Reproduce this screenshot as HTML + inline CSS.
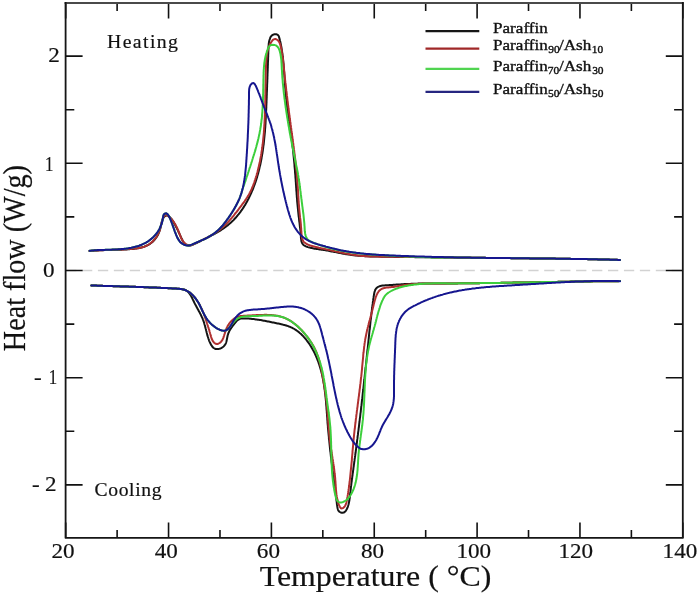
<!DOCTYPE html>
<html><head><meta charset="utf-8"><style>
html,body{margin:0;padding:0;background:#fff;}
body{width:700px;height:601px;overflow:hidden;}
svg{display:block;filter:blur(0.3px);}
text{font-family:"Liberation Serif",serif;fill:#111;stroke:#111;stroke-width:0.2px;}
.lg text{stroke-width:0.35px;}
</style></head><body>
<svg width="700" height="601" viewBox="0 0 700 601">
<line x1="66" y1="270.5" x2="682" y2="270.5" stroke="#d2d2d2" stroke-width="1.6" stroke-dasharray="10.3 5.64" stroke-dashoffset="15.92"/>
<path d="M89.5 251.0L90.5 250.9L91.5 250.9L92.5 250.8L93.5 250.7L94.5 250.6L95.5 250.5L96.5 250.5L97.5 250.4L98.5 250.4L99.5 250.3L100.5 250.3L101.5 250.2L102.5 250.2L103.5 250.2L104.5 250.1L105.5 250.1L106.5 250.1L107.5 250.0L108.5 250.0L109.5 250.0L110.5 250.0L111.5 249.9L112.5 249.9L113.5 249.9L114.5 249.9L115.5 249.8L116.4 249.8L117.4 249.8L118.4 249.8L119.4 249.7L120.4 249.7L121.4 249.7L122.4 249.6L123.4 249.6L124.4 249.5L125.4 249.5L126.4 249.4L127.4 249.3L128.4 249.3L129.4 249.2L130.4 249.1L131.4 249.0L132.4 249.0L133.4 248.9L134.4 248.7L135.4 248.6L136.4 248.5L137.4 248.3L138.4 248.2L139.3 248.0L140.3 247.8L141.3 247.5L142.3 247.3L143.2 247.0L144.2 246.7L145.1 246.3L146.0 246.0L146.9 245.5L147.8 245.1L148.7 244.6L149.6 244.1L150.4 243.5L151.2 243.0L152.0 242.3L152.7 241.7L153.4 241.0L154.1 240.2L154.8 239.5L155.4 238.7L156.0 237.9L156.6 237.1L157.1 236.2L157.6 235.4L158.1 234.5L158.5 233.6L158.9 232.7L159.3 231.7L159.6 230.8L159.9 229.8L160.2 228.9L160.4 227.9L160.6 226.9L160.8 225.9L161.0 225.0L161.3 224.0L161.5 223.0L161.7 222.0L162.0 221.1L162.3 220.1L162.7 219.2L163.1 218.3L163.7 217.5L164.3 216.7L165.1 216.0L165.9 215.6L166.9 215.5L167.9 215.8L168.8 216.3L169.6 216.9L170.3 217.6L170.9 218.3L171.6 219.1L172.1 219.9L172.7 220.8L173.2 221.6L173.7 222.5L174.2 223.4L174.7 224.2L175.2 225.1L175.6 226.0L176.1 226.9L176.6 227.8L177.0 228.7L177.5 229.5L177.9 230.4L178.3 231.3L178.7 232.3L179.2 233.2L179.6 234.1L180.0 235.0L180.4 235.9L180.8 236.8L181.2 237.7L181.7 238.6L182.1 239.5L182.5 240.4L183.0 241.3L183.5 242.2L184.1 243.0L184.8 243.7L185.5 244.4L186.4 244.9L187.3 245.3L188.3 245.5L189.3 245.5L190.3 245.4L191.2 245.2L192.2 244.9L193.1 244.6L194.0 244.2L195.0 243.7L195.9 243.3L196.8 242.9L197.7 242.5L198.6 242.0L199.5 241.6L200.3 241.1L201.2 240.7L202.1 240.2L203.0 239.8L203.9 239.3L204.8 238.9L205.7 238.4L206.6 238.0L207.5 237.5L208.4 237.1L209.3 236.6L210.2 236.1L211.0 235.7L211.9 235.2L212.8 234.7L213.7 234.3L214.6 233.8L215.4 233.3L216.3 232.8L217.2 232.3L218.0 231.8L218.9 231.3L219.8 230.8L220.6 230.3L221.5 229.7L222.3 229.2L223.1 228.6L223.9 228.1L224.8 227.5L225.6 226.9L226.4 226.3L227.2 225.7L228.0 225.1L228.7 224.4L229.5 223.8L230.2 223.1L231.0 222.5L231.7 221.8L232.4 221.1L233.2 220.4L233.9 219.7L234.5 219.0L235.2 218.2L235.9 217.5L236.6 216.7L237.2 216.0L237.8 215.2L238.5 214.4L239.1 213.6L239.7 212.9L240.3 212.1L240.9 211.2L241.5 210.4L242.0 209.6L242.6 208.8L243.2 207.9L243.7 207.1L244.2 206.3L244.8 205.4L245.3 204.6L245.8 203.7L246.3 202.8L246.8 202.0L247.3 201.1L247.7 200.2L248.2 199.3L248.7 198.4L249.1 197.5L249.5 196.6L250.0 195.7L250.4 194.8L250.8 193.9L251.2 193.0L251.6 192.1L252.0 191.2L252.4 190.3L252.8 189.3L253.2 188.4L253.5 187.5L253.9 186.5L254.2 185.6L254.6 184.7L254.9 183.7L255.2 182.8L255.6 181.8L255.9 180.9L256.2 179.9L256.5 179.0L256.8 178.0L257.1 177.1L257.3 176.1L257.6 175.1L257.9 174.2L258.2 173.2L258.4 172.3L258.7 171.3L258.9 170.3L259.2 169.3L259.4 168.4L259.6 167.4L259.8 166.4L260.1 165.5L260.3 164.5L260.5 163.5L260.7 162.5L260.9 161.5L261.1 160.6L261.3 159.6L261.5 158.6L261.6 157.6L261.8 156.6L262.0 155.6L262.1 154.7L262.3 153.7L262.5 152.7L262.6 151.7L262.8 150.7L262.9 149.7L263.0 148.7L263.2 147.7L263.3 146.7L263.4 145.8L263.6 144.8L263.7 143.8L263.8 142.8L263.9 141.8L264.0 140.8L264.1 139.8L264.2 138.8L264.3 137.8L264.4 136.8L264.5 135.8L264.6 134.8L264.7 133.8L264.8 132.8L264.9 131.8L265.0 130.8L265.0 129.8L265.1 128.8L265.2 127.8L265.3 126.8L265.3 125.9L265.4 124.9L265.5 123.9L265.5 122.9L265.6 121.9L265.6 120.9L265.7 119.9L265.7 118.9L265.8 117.9L265.8 116.9L265.9 115.9L265.9 114.9L266.0 113.9L266.0 112.9L266.1 111.9L266.1 110.9L266.2 109.9L266.2 108.9L266.3 107.9L266.3 106.9L266.3 105.9L266.4 104.9L266.4 103.9L266.5 102.9L266.5 101.9L266.5 100.9L266.6 99.9L266.6 98.9L266.7 97.9L266.7 96.9L266.7 95.9L266.8 94.9L266.8 93.9L266.8 92.9L266.9 91.9L266.9 90.9L267.0 89.9L267.0 88.9L267.0 87.9L267.1 86.9L267.1 85.9L267.1 84.9L267.2 83.9L267.2 82.9L267.3 81.9L267.3 80.9L267.3 79.9L267.4 78.9L267.4 77.9L267.4 76.9L267.5 75.9L267.5 74.9L267.5 73.9L267.6 72.9L267.6 71.9L267.7 70.9L267.7 69.9L267.7 68.9L267.8 67.9L267.8 66.9L267.8 65.9L267.9 64.9L267.9 63.9L267.9 62.9L268.0 61.9L268.0 60.9L268.1 59.9L268.1 58.9L268.1 57.9L268.2 56.9L268.2 55.9L268.2 54.9L268.3 53.9L268.3 52.9L268.3 51.9L268.4 50.9L268.4 49.9L268.5 48.9L268.5 47.9L268.5 46.9L268.6 45.9L268.7 44.9L268.7 44.0L268.9 43.0L269.0 42.0L269.2 41.0L269.5 40.0L269.8 39.1L270.1 38.1L270.5 37.2L271.1 36.4L271.7 35.6L272.5 35.0L273.4 34.6L274.3 34.3L275.3 34.2L276.3 34.3L277.3 34.6L278.1 35.2L278.7 36.0L279.0 36.9L279.3 37.9L279.5 38.9L279.8 39.8L280.0 40.8L280.3 41.8L280.5 42.7L280.7 43.7L280.9 44.7L281.1 45.7L281.3 46.7L281.5 47.6L281.6 48.6L281.8 49.6L281.9 50.6L282.1 51.6L282.2 52.6L282.4 53.6L282.5 54.6L282.6 55.6L282.7 56.5L282.9 57.5L283.0 58.5L283.1 59.5L283.2 60.5L283.3 61.5L283.4 62.5L283.5 63.5L283.6 64.5L283.6 65.5L283.7 66.5L283.8 67.5L283.9 68.5L284.0 69.5L284.0 70.5L284.1 71.5L284.2 72.5L284.2 73.5L284.3 74.5L284.4 75.5L284.4 76.5L284.5 77.5L284.6 78.5L284.7 79.5L284.7 80.5L284.8 81.5L284.9 82.5L284.9 83.4L285.0 84.4L285.1 85.4L285.1 86.4L285.2 87.4L285.3 88.4L285.4 89.4L285.4 90.4L285.5 91.4L285.6 92.4L285.7 93.4L285.8 94.4L285.9 95.4L286.0 96.4L286.1 97.4L286.1 98.4L286.3 99.4L286.4 100.4L286.5 101.4L286.6 102.4L286.7 103.4L286.8 104.4L286.9 105.3L287.0 106.3L287.2 107.3L287.3 108.3L287.4 109.3L287.6 110.3L287.7 111.3L287.8 112.3L288.0 113.3L288.1 114.3L288.3 115.3L288.4 116.2L288.5 117.2L288.7 118.2L288.8 119.2L289.0 120.2L289.1 121.2L289.3 122.2L289.4 123.2L289.6 124.2L289.7 125.1L289.8 126.1L290.0 127.1L290.1 128.1L290.3 129.1L290.4 130.1L290.6 131.1L290.7 132.1L290.8 133.1L291.0 134.1L291.1 135.0L291.3 136.0L291.4 137.0L291.5 138.0L291.7 139.0L291.8 140.0L291.9 141.0L292.0 142.0L292.2 143.0L292.3 144.0L292.4 145.0L292.5 146.0L292.6 146.9L292.8 147.9L292.9 148.9L293.0 149.9L293.1 150.9L293.2 151.9L293.3 152.9L293.4 153.9L293.5 154.9L293.6 155.9L293.7 156.9L293.8 157.9L293.9 158.9L294.0 159.9L294.1 160.9L294.2 161.9L294.3 162.9L294.4 163.9L294.5 164.8L294.5 165.8L294.6 166.8L294.7 167.8L294.8 168.8L294.9 169.8L295.0 170.8L295.0 171.8L295.1 172.8L295.2 173.8L295.3 174.8L295.4 175.8L295.4 176.8L295.5 177.8L295.6 178.8L295.7 179.8L295.7 180.8L295.8 181.8L295.9 182.8L295.9 183.8L296.0 184.8L296.1 185.8L296.1 186.8L296.2 187.8L296.3 188.8L296.3 189.8L296.4 190.8L296.5 191.8L296.6 192.8L296.6 193.8L296.7 194.8L296.8 195.8L296.8 196.7L296.9 197.7L297.0 198.7L297.1 199.7L297.1 200.7L297.2 201.7L297.3 202.7L297.4 203.7L297.5 204.7L297.6 205.7L297.7 206.7L297.8 207.7L297.9 208.7L298.0 209.7L298.1 210.7L298.2 211.7L298.3 212.7L298.4 213.7L298.5 214.7L298.6 215.7L298.7 216.6L298.9 217.6L299.0 218.6L299.1 219.6L299.2 220.6L299.3 221.6L299.5 222.6L299.6 223.6L299.7 224.6L299.8 225.6L299.9 226.6L300.0 227.6L300.2 228.6L300.3 229.6L300.4 230.5L300.5 231.5L300.6 232.5L300.7 233.5L300.7 234.5L300.8 235.5L300.9 236.5L300.9 237.5L301.0 238.5L301.2 239.5L301.3 240.5L301.5 241.5L301.8 242.4L302.2 243.3L302.8 244.2L303.4 244.9L304.2 245.5L305.1 246.0L306.0 246.4L307.0 246.8L307.9 247.1L308.9 247.4L309.8 247.6L310.8 247.9L311.8 248.1L312.8 248.3L313.7 248.5L314.7 248.7L315.7 248.8L316.7 249.0L317.7 249.1L318.7 249.2L319.7 249.4L320.7 249.5L321.6 249.7L322.6 249.8L323.6 250.0L324.6 250.1L325.6 250.3L326.6 250.5L327.6 250.6L328.5 250.8L329.5 251.0L330.5 251.2L331.5 251.4L332.5 251.6L333.5 251.8L334.4 252.0L335.4 252.1L336.4 252.3L337.4 252.5L338.4 252.7L339.3 252.9L340.3 253.1L341.3 253.3L342.3 253.5L343.3 253.7L344.3 253.8L345.2 254.0L346.2 254.2L347.2 254.3L348.2 254.5L349.2 254.6L350.2 254.8L351.2 254.9L352.2 255.0L353.2 255.2L354.1 255.3L355.1 255.4L356.1 255.5L357.1 255.6L358.1 255.7L359.1 255.8L360.1 255.8L361.1 255.9L362.1 256.0L363.1 256.0L364.1 256.1L365.1 256.2L366.1 256.2L367.1 256.3L368.1 256.3L369.1 256.3L370.1 256.4L371.1 256.4L372.1 256.4L373.1 256.5L374.1 256.5L375.1 256.5L376.1 256.6L377.1 256.6L378.1 256.6L379.1 256.6L380.1 256.6L381.1 256.7L382.1 256.7L383.1 256.7L384.1 256.7L385.1 256.7L386.1 256.7L387.1 256.8L388.1 256.8L389.1 256.8L390.1 256.8L391.1 256.8L392.1 256.8L393.1 256.8L394.1 256.9L395.1 256.9L396.1 256.9L397.1 256.9L398.1 256.9L399.1 256.9L400.1 256.9L401.1 257.0L402.1 257.0L403.1 257.0L404.1 257.0L405.1 257.0L406.1 257.0L407.1 257.0L408.1 257.1L409.1 257.1L410.1 257.1L411.1 257.1L412.1 257.1L413.1 257.1L414.1 257.1L415.1 257.2L416.1 257.2L417.1 257.2L418.1 257.2L419.1 257.2L420.1 257.2L421.1 257.2L422.1 257.2L423.1 257.3L424.1 257.3L425.1 257.3L426.1 257.3L427.1 257.3L428.1 257.3L429.1 257.3L430.1 257.3L431.1 257.4L432.1 257.4L433.1 257.4L434.1 257.4L435.1 257.4L436.1 257.4L437.1 257.4L438.1 257.4L439.1 257.5L440.1 257.5L441.1 257.5L442.1 257.5L443.1 257.5L444.1 257.5L445.1 257.5L446.1 257.5L447.1 257.5L448.1 257.6L449.1 257.6L450.1 257.6L451.1 257.6L452.1 257.6L453.1 257.6L454.1 257.6L455.1 257.6L456.1 257.6L457.1 257.7L458.1 257.7L459.1 257.7L460.1 257.7L461.1 257.7L462.1 257.7L463.1 257.7L464.1 257.7L465.1 257.7L466.1 257.8L467.1 257.8L468.1 257.8L469.1 257.8L470.1 257.8L471.1 257.8L472.1 257.8L473.1 257.8L474.1 257.8L475.1 257.8L476.1 257.8L477.1 257.8L478.1 257.8L479.1 257.8L480.1 257.8L481.1 257.8L482.1 257.8L483.1 257.8L484.1 257.8L485.1 257.8L486.1 257.9L487.1 257.9L488.1 257.9L489.1 257.9L490.1 257.9L491.1 257.9L492.1 257.9L493.1 257.9L494.1 258.0L495.1 258.0L496.1 258.0L497.1 258.0L498.1 258.0L499.1 258.0L500.1 258.0L501.1 258.0L502.1 258.1L503.1 258.1L504.1 258.1L505.1 258.1L506.1 258.1L507.1 258.1L508.1 258.1L509.1 258.1L510.1 258.1L511.1 258.2L512.1 258.2L513.1 258.2L514.1 258.2L515.1 258.2L516.1 258.2L517.1 258.2L518.1 258.2L519.1 258.2L520.1 258.2L521.1 258.3L522.1 258.3L523.0 258.3L524.0 258.3L525.0 258.3L526.0 258.3L527.0 258.3L528.0 258.3L529.0 258.3L530.0 258.4L531.0 258.4L532.0 258.4L533.0 258.4L534.0 258.4L535.0 258.4L536.0 258.4L537.0 258.4L538.0 258.4L539.0 258.4L540.0 258.5L541.0 258.5L542.0 258.5L543.0 258.5L544.0 258.5L545.0 258.5L546.0 258.5L547.0 258.5L548.0 258.6L549.0 258.6L550.0 258.6L551.0 258.6L552.0 258.6L553.0 258.6L554.0 258.6L555.0 258.6L556.0 258.7L557.0 258.7L558.0 258.7L559.0 258.7L560.0 258.7L561.0 258.7L562.0 258.7L563.0 258.7L564.0 258.8L565.0 258.8L566.0 258.8L567.0 258.8L568.0 258.8L569.0 258.8L570.0 258.8L571.0 258.9L572.0 258.9L573.0 258.9L574.0 258.9L575.0 258.9L576.0 258.9L577.0 259.0L578.0 259.0L579.0 259.0L580.0 259.0L581.0 259.0L582.0 259.0L583.0 259.1L584.0 259.1L585.0 259.1L586.0 259.1L587.0 259.1L588.0 259.2L589.0 259.2L590.0 259.2L591.0 259.2L592.0 259.2L593.0 259.3L594.0 259.3L595.0 259.3L596.0 259.3L597.0 259.3L598.0 259.4L599.0 259.4L600.0 259.4L601.0 259.4L602.0 259.5L603.0 259.5L604.0 259.5L605.0 259.5L606.0 259.6L607.0 259.6L608.0 259.6L609.0 259.6L610.0 259.7L611.0 259.7L612.0 259.7L613.0 259.7L614.0 259.8L615.0 259.8L616.0 259.8L617.0 259.8L618.0 259.9L619.0 259.9L620.0 259.9" fill="none" stroke="#141414" stroke-width="2.0" stroke-linejoin="round" stroke-linecap="round"/>
<path d="M91.3 285.5L92.3 285.5L93.3 285.5L94.3 285.6L95.3 285.6L96.3 285.6L97.3 285.7L98.3 285.7L99.3 285.7L100.3 285.8L101.3 285.8L102.3 285.8L103.3 285.9L104.3 285.9L105.3 285.9L106.3 285.9L107.3 286.0L108.3 286.0L109.3 286.0L110.3 286.1L111.3 286.1L112.3 286.1L113.3 286.2L114.3 286.2L115.3 286.2L116.3 286.3L117.3 286.3L118.3 286.3L119.3 286.3L120.3 286.4L121.2 286.4L122.2 286.4L123.2 286.5L124.2 286.5L125.2 286.5L126.2 286.6L127.2 286.6L128.2 286.6L129.2 286.7L130.2 286.7L131.2 286.7L132.2 286.8L133.2 286.8L134.2 286.8L135.2 286.8L136.2 286.9L137.2 286.9L138.2 287.0L139.2 287.0L140.2 287.0L141.2 287.1L142.2 287.1L143.2 287.1L144.2 287.2L145.2 287.2L146.2 287.2L147.2 287.3L148.2 287.3L149.2 287.4L150.2 287.4L151.2 287.4L152.2 287.5L153.2 287.5L154.2 287.6L155.2 287.6L156.2 287.6L157.2 287.7L158.2 287.7L159.2 287.8L160.2 287.8L161.2 287.9L162.2 287.9L163.2 287.9L164.2 288.0L165.2 288.0L166.2 288.1L167.2 288.1L168.2 288.2L169.2 288.2L170.2 288.3L171.2 288.3L172.2 288.4L173.2 288.4L174.2 288.5L175.1 288.6L176.1 288.6L177.1 288.7L178.1 288.7L179.1 288.8L180.1 288.9L181.1 289.0L182.1 289.1L183.1 289.3L184.0 289.5L185.0 289.8L185.8 290.2L186.7 290.8L187.5 291.4L188.2 292.1L188.9 292.8L189.5 293.6L190.1 294.4L190.6 295.2L191.1 296.1L191.6 297.0L192.1 297.9L192.5 298.8L192.9 299.7L193.4 300.6L193.8 301.5L194.2 302.4L194.7 303.3L195.1 304.2L195.6 305.0L196.1 305.9L196.5 306.8L197.0 307.7L197.5 308.6L198.0 309.4L198.4 310.3L198.9 311.2L199.4 312.1L199.9 313.0L200.3 313.8L200.8 314.7L201.2 315.6L201.6 316.5L202.1 317.4L202.5 318.4L202.8 319.3L203.2 320.2L203.5 321.2L203.9 322.1L204.2 323.1L204.4 324.0L204.7 325.0L205.0 325.9L205.2 326.9L205.5 327.9L205.7 328.8L206.0 329.8L206.2 330.8L206.5 331.7L206.7 332.7L207.0 333.7L207.2 334.6L207.5 335.6L207.8 336.6L208.1 337.5L208.4 338.5L208.7 339.4L209.0 340.3L209.4 341.3L209.8 342.2L210.2 343.1L210.7 344.0L211.1 344.9L211.7 345.7L212.2 346.5L212.9 347.3L213.6 348.0L214.5 348.5L215.4 348.9L216.4 349.1L217.4 349.1L218.3 349.0L219.3 348.8L220.3 348.5L221.2 348.1L222.0 347.6L222.9 347.0L223.6 346.4L224.3 345.7L224.9 344.9L225.5 344.0L225.9 343.1L226.2 342.2L226.5 341.2L226.7 340.2L226.9 339.3L227.1 338.3L227.3 337.3L227.5 336.3L227.7 335.3L228.0 334.4L228.3 333.4L228.7 332.5L229.1 331.6L229.5 330.7L230.0 329.8L230.6 329.0L231.1 328.2L231.7 327.3L232.3 326.5L232.9 325.7L233.5 324.9L234.1 324.1L234.7 323.4L235.3 322.6L236.0 321.8L236.6 321.1L237.3 320.4L238.1 319.8L239.0 319.3L239.9 318.9L240.9 318.6L241.9 318.5L242.9 318.4L243.9 318.4L244.9 318.4L245.9 318.4L246.9 318.5L247.9 318.5L248.9 318.6L249.9 318.7L250.9 318.8L251.9 318.9L252.8 319.0L253.8 319.1L254.8 319.2L255.8 319.4L256.8 319.5L257.8 319.7L258.8 319.8L259.8 320.0L260.8 320.1L261.7 320.3L262.7 320.5L263.7 320.7L264.7 320.8L265.7 321.0L266.7 321.2L267.6 321.4L268.6 321.6L269.6 321.8L270.6 322.0L271.6 322.2L272.5 322.4L273.5 322.6L274.5 322.8L275.5 323.0L276.5 323.2L277.4 323.4L278.4 323.6L279.4 323.8L280.4 324.0L281.3 324.2L282.3 324.4L283.3 324.7L284.2 324.9L285.2 325.2L286.2 325.5L287.1 325.8L288.1 326.1L289.0 326.5L289.9 326.8L290.8 327.2L291.8 327.6L292.7 328.1L293.5 328.5L294.4 329.0L295.3 329.6L296.1 330.1L296.9 330.7L297.7 331.3L298.5 331.9L299.3 332.5L300.0 333.2L300.8 333.8L301.5 334.5L302.2 335.2L302.9 335.9L303.6 336.7L304.3 337.4L304.9 338.2L305.6 338.9L306.2 339.7L306.8 340.5L307.4 341.3L308.0 342.1L308.6 342.9L309.2 343.7L309.7 344.5L310.3 345.4L310.8 346.2L311.3 347.1L311.8 347.9L312.3 348.8L312.8 349.7L313.3 350.5L313.8 351.4L314.2 352.3L314.7 353.2L315.1 354.1L315.5 355.0L315.9 355.9L316.3 356.9L316.7 357.8L317.1 358.7L317.4 359.6L317.8 360.6L318.2 361.5L318.5 362.4L318.8 363.4L319.1 364.3L319.4 365.3L319.7 366.2L320.0 367.2L320.3 368.1L320.6 369.1L320.9 370.1L321.1 371.0L321.4 372.0L321.6 373.0L321.9 373.9L322.1 374.9L322.3 375.9L322.5 376.9L322.7 377.8L322.9 378.8L323.1 379.8L323.3 380.8L323.5 381.8L323.6 382.8L323.8 383.7L324.0 384.7L324.1 385.7L324.3 386.7L324.4 387.7L324.5 388.7L324.7 389.7L324.8 390.7L324.9 391.7L325.1 392.6L325.2 393.6L325.3 394.6L325.4 395.6L325.5 396.6L325.6 397.6L325.7 398.6L325.8 399.6L325.9 400.6L326.0 401.6L326.1 402.6L326.1 403.6L326.2 404.6L326.3 405.6L326.4 406.6L326.5 407.6L326.5 408.6L326.6 409.6L326.7 410.6L326.8 411.5L326.8 412.5L326.9 413.5L327.0 414.5L327.0 415.5L327.1 416.5L327.2 417.5L327.3 418.5L327.3 419.5L327.4 420.5L327.5 421.5L327.5 422.5L327.6 423.5L327.7 424.5L327.8 425.5L327.9 426.5L327.9 427.5L328.0 428.5L328.1 429.5L328.2 430.5L328.3 431.5L328.4 432.5L328.5 433.5L328.6 434.5L328.7 435.5L328.8 436.4L328.9 437.4L328.9 438.4L329.0 439.4L329.2 440.4L329.3 441.4L329.4 442.4L329.5 443.4L329.6 444.4L329.7 445.4L329.8 446.4L329.9 447.4L330.0 448.4L330.1 449.4L330.2 450.4L330.3 451.3L330.5 452.3L330.6 453.3L330.7 454.3L330.8 455.3L330.9 456.3L331.0 457.3L331.2 458.3L331.3 459.3L331.4 460.3L331.5 461.3L331.6 462.3L331.8 463.3L331.9 464.2L332.0 465.2L332.1 466.2L332.3 467.2L332.4 468.2L332.5 469.2L332.6 470.2L332.8 471.2L332.9 472.2L333.0 473.2L333.1 474.2L333.3 475.1L333.4 476.1L333.5 477.1L333.6 478.1L333.8 479.1L333.9 480.1L334.0 481.1L334.2 482.1L334.3 483.1L334.4 484.1L334.5 485.1L334.7 486.0L334.8 487.0L334.9 488.0L335.0 489.0L335.2 490.0L335.3 491.0L335.4 492.0L335.5 493.0L335.7 494.0L335.8 495.0L335.9 496.0L336.0 497.0L336.2 497.9L336.3 498.9L336.4 499.9L336.5 500.9L336.7 501.9L336.8 502.9L336.9 503.9L337.0 504.9L337.2 505.9L337.3 506.9L337.5 507.8L337.7 508.8L338.0 509.8L338.4 510.7L339.0 511.4L339.8 512.0L340.7 512.5L341.7 512.7L342.7 512.8L343.7 512.6L344.5 512.1L345.3 511.4L345.9 510.6L346.4 509.8L346.9 508.9L347.3 508.0L347.7 507.1L348.0 506.1L348.3 505.2L348.6 504.2L348.8 503.3L349.0 502.3L349.2 501.3L349.4 500.3L349.5 499.3L349.7 498.3L349.8 497.3L349.9 496.3L350.0 495.4L350.1 494.4L350.2 493.4L350.3 492.4L350.5 491.4L350.6 490.4L350.7 489.4L350.8 488.4L350.9 487.4L351.0 486.4L351.2 485.4L351.3 484.4L351.4 483.4L351.5 482.5L351.7 481.5L351.8 480.5L351.9 479.5L352.1 478.5L352.2 477.5L352.3 476.5L352.5 475.5L352.6 474.5L352.7 473.5L352.9 472.6L353.0 471.6L353.1 470.6L353.3 469.6L353.4 468.6L353.5 467.6L353.7 466.6L353.8 465.6L353.9 464.6L354.1 463.6L354.2 462.7L354.3 461.7L354.5 460.7L354.6 459.7L354.7 458.7L354.9 457.7L355.0 456.7L355.2 455.7L355.3 454.7L355.4 453.7L355.6 452.8L355.7 451.8L355.8 450.8L356.0 449.8L356.1 448.8L356.2 447.8L356.3 446.8L356.5 445.8L356.6 444.8L356.7 443.8L356.9 442.8L357.0 441.9L357.1 440.9L357.2 439.9L357.4 438.9L357.5 437.9L357.6 436.9L357.7 435.9L357.9 434.9L358.0 433.9L358.1 432.9L358.2 431.9L358.4 431.0L358.5 430.0L358.6 429.0L358.7 428.0L358.9 427.0L359.0 426.0L359.1 425.0L359.2 424.0L359.3 423.0L359.5 422.0L359.6 421.0L359.7 420.0L359.8 419.1L359.9 418.1L360.1 417.1L360.2 416.1L360.3 415.1L360.4 414.1L360.5 413.1L360.7 412.1L360.8 411.1L360.9 410.1L361.0 409.1L361.1 408.1L361.2 407.1L361.3 406.2L361.5 405.2L361.6 404.2L361.7 403.2L361.8 402.2L361.9 401.2L362.0 400.2L362.1 399.2L362.3 398.2L362.4 397.2L362.5 396.2L362.6 395.2L362.7 394.2L362.8 393.2L362.9 392.3L363.0 391.3L363.1 390.3L363.3 389.3L363.4 388.3L363.5 387.3L363.6 386.3L363.7 385.3L363.8 384.3L363.9 383.3L364.0 382.3L364.1 381.3L364.2 380.3L364.4 379.3L364.5 378.4L364.6 377.4L364.7 376.4L364.8 375.4L364.9 374.4L365.0 373.4L365.1 372.4L365.2 371.4L365.3 370.4L365.4 369.4L365.5 368.4L365.6 367.4L365.8 366.4L365.9 365.4L366.0 364.4L366.1 363.5L366.2 362.5L366.3 361.5L366.4 360.5L366.5 359.5L366.6 358.5L366.7 357.5L366.8 356.5L366.9 355.5L367.0 354.5L367.1 353.5L367.2 352.5L367.3 351.5L367.4 350.5L367.5 349.5L367.7 348.6L367.8 347.6L367.9 346.6L368.0 345.6L368.1 344.6L368.2 343.6L368.3 342.6L368.4 341.6L368.5 340.6L368.6 339.6L368.7 338.6L368.8 337.6L368.9 336.6L369.0 335.6L369.1 334.6L369.2 333.6L369.3 332.7L369.4 331.7L369.5 330.7L369.6 329.7L369.8 328.7L369.9 327.7L370.0 326.7L370.1 325.7L370.2 324.7L370.3 323.7L370.4 322.7L370.5 321.7L370.6 320.7L370.7 319.7L370.9 318.8L371.0 317.8L371.1 316.8L371.2 315.8L371.3 314.8L371.4 313.8L371.6 312.8L371.7 311.8L371.8 310.8L371.9 309.8L372.0 308.8L372.2 307.8L372.3 306.8L372.4 305.9L372.5 304.9L372.7 303.9L372.8 302.9L372.9 301.9L373.1 300.9L373.2 299.9L373.3 298.9L373.5 297.9L373.6 296.9L373.8 296.0L373.9 295.0L374.1 294.0L374.3 293.0L374.5 292.0L374.8 291.1L375.1 290.1L375.6 289.3L376.2 288.4L376.9 287.7L377.7 287.1L378.6 286.7L379.5 286.3L380.4 286.0L381.4 285.8L382.4 285.6L383.4 285.5L384.4 285.4L385.4 285.3L386.4 285.3L387.4 285.2L388.4 285.2L389.4 285.1L390.4 285.0L391.4 285.0L392.4 284.9L393.4 284.8L394.4 284.8L395.4 284.7L396.4 284.6L397.4 284.6L398.3 284.5L399.3 284.4L400.3 284.4L401.3 284.3L402.3 284.2L403.3 284.2L404.3 284.1L405.3 284.1L406.3 284.0L407.3 284.0L408.3 284.0L409.3 283.9L410.3 283.9L411.3 283.8L412.3 283.8L413.3 283.8L414.3 283.7L415.3 283.7L416.3 283.7L417.3 283.7L418.3 283.6L419.3 283.6L420.3 283.6L421.3 283.6L422.3 283.6L423.3 283.6L424.3 283.5L425.3 283.5L426.3 283.5L427.3 283.5L428.3 283.5L429.3 283.5L430.3 283.5L431.3 283.5L432.3 283.5L433.3 283.4L434.3 283.4L435.3 283.4L436.3 283.4L437.3 283.4L438.3 283.4L439.3 283.4L440.3 283.4L441.3 283.4L442.3 283.4L443.3 283.4L444.3 283.4L445.3 283.4L446.3 283.4L447.3 283.4L448.3 283.4L449.3 283.4L450.3 283.4L451.3 283.4L452.3 283.4L453.3 283.4L454.3 283.4L455.3 283.4L456.3 283.4L457.3 283.4L458.3 283.3L459.3 283.3L460.3 283.3L461.3 283.3L462.3 283.3L463.3 283.3L464.3 283.3L465.3 283.3L466.3 283.3L467.3 283.3L468.3 283.3L469.3 283.3L470.3 283.2L471.3 283.2L472.3 283.2L473.3 283.2L474.3 283.2L475.3 283.2L476.3 283.2L477.3 283.2L478.3 283.2L479.3 283.2L480.3 283.1L481.3 283.1L482.2 283.1L483.2 283.1L484.2 283.1L485.2 283.1L486.2 283.1L487.2 283.0L488.2 283.0L489.2 283.0L490.2 283.0L491.2 283.0L492.2 283.0L493.2 283.0L494.2 282.9L495.2 282.9L496.2 282.9L497.2 282.9L498.2 282.9L499.2 282.9L500.2 282.9L501.2 282.8L502.2 282.8L503.2 282.8L504.2 282.8L505.2 282.8L506.2 282.8L507.2 282.7L508.2 282.7L509.2 282.7L510.2 282.7L511.2 282.7L512.2 282.7L513.2 282.6L514.2 282.6L515.2 282.6L516.2 282.6L517.2 282.6L518.2 282.6L519.2 282.5L520.2 282.5L521.2 282.5L522.2 282.5L523.2 282.5L524.2 282.4L525.2 282.4L526.2 282.4L527.2 282.4L528.2 282.4L529.2 282.4L530.2 282.3L531.2 282.3L532.2 282.3L533.2 282.3L534.2 282.3L535.2 282.3L536.2 282.2L537.2 282.2L538.2 282.2L539.2 282.2L540.2 282.2L541.2 282.1L542.2 282.1L543.2 282.1L544.2 282.1L545.2 282.1L546.2 282.1L547.2 282.0L548.2 282.0L549.2 282.0L550.2 282.0L551.2 282.0L552.2 281.9L553.2 281.9L554.2 281.9L555.2 281.9L556.2 281.9L557.2 281.9L558.2 281.8L559.2 281.8L560.2 281.8L561.2 281.8L562.2 281.8L563.2 281.8L564.2 281.7L565.2 281.7L566.2 281.7L567.2 281.7L568.2 281.7L569.2 281.7L570.2 281.6L571.2 281.6L572.2 281.6L573.2 281.6L574.2 281.6L575.2 281.6L576.2 281.6L577.2 281.5L578.1 281.5L579.1 281.5L580.1 281.5L581.1 281.5L582.1 281.5L583.1 281.5L584.1 281.4L585.1 281.4L586.1 281.4L587.1 281.4L588.1 281.4L589.1 281.4L590.1 281.4L591.1 281.4L592.1 281.4L593.1 281.3L594.1 281.3L595.1 281.3L596.1 281.3L597.1 281.3L598.1 281.3L599.1 281.3L600.1 281.3L601.1 281.3L602.1 281.3L603.1 281.2L604.1 281.2L605.1 281.2L606.1 281.2L607.1 281.2L608.1 281.2L609.1 281.2L610.1 281.2L611.1 281.2L612.1 281.2L613.1 281.2L614.1 281.2L615.1 281.2L616.1 281.2L617.1 281.2L618.1 281.2L619.1 281.1L620.1 281.1" fill="none" stroke="#141414" stroke-width="2.0" stroke-linejoin="round" stroke-linecap="round"/>
<path d="M89.5 250.9L90.5 250.8L91.5 250.8L92.5 250.7L93.5 250.6L94.5 250.6L95.5 250.5L96.5 250.4L97.5 250.4L98.5 250.3L99.5 250.3L100.5 250.2L101.5 250.2L102.5 250.2L103.5 250.1L104.5 250.1L105.5 250.0L106.5 250.0L107.5 250.0L108.5 249.9L109.5 249.9L110.5 249.9L111.5 249.8L112.5 249.8L113.5 249.8L114.5 249.7L115.5 249.7L116.5 249.7L117.5 249.6L118.5 249.6L119.4 249.6L120.4 249.5L121.4 249.5L122.4 249.4L123.4 249.4L124.4 249.3L125.4 249.3L126.4 249.2L127.4 249.2L128.4 249.1L129.4 249.1L130.4 249.0L131.4 248.9L132.4 248.8L133.4 248.7L134.4 248.6L135.4 248.5L136.4 248.4L137.4 248.3L138.4 248.1L139.4 247.9L140.3 247.7L141.3 247.5L142.3 247.2L143.2 247.0L144.2 246.7L145.1 246.3L146.0 245.9L147.0 245.5L147.8 245.0L148.7 244.5L149.5 244.0L150.4 243.4L151.1 242.8L151.9 242.1L152.6 241.5L153.3 240.7L154.0 240.0L154.6 239.2L155.3 238.4L155.8 237.6L156.4 236.8L156.9 236.0L157.4 235.1L157.9 234.2L158.4 233.3L158.8 232.4L159.2 231.5L159.6 230.6L159.9 229.6L160.2 228.7L160.5 227.7L160.8 226.8L161.0 225.8L161.2 224.8L161.5 223.9L161.7 222.9L162.0 221.9L162.2 221.0L162.5 220.0L162.8 219.0L163.1 218.1L163.5 217.2L163.9 216.3L164.6 215.5L165.5 215.1L166.4 215.2L167.4 215.6L168.2 216.1L169.0 216.7L169.7 217.4L170.5 218.1L171.2 218.8L171.8 219.5L172.5 220.3L173.1 221.1L173.7 221.9L174.2 222.7L174.8 223.6L175.3 224.4L175.8 225.3L176.2 226.2L176.7 227.1L177.1 228.0L177.5 228.9L177.9 229.8L178.3 230.7L178.7 231.7L179.0 232.6L179.4 233.5L179.7 234.5L180.1 235.4L180.5 236.3L180.8 237.2L181.2 238.2L181.7 239.1L182.2 239.9L182.7 240.8L183.3 241.6L183.9 242.4L184.6 243.1L185.4 243.7L186.2 244.3L187.1 244.7L188.0 245.1L189.0 245.3L190.0 245.3L191.0 245.2L192.0 244.9L192.9 244.5L193.8 244.1L194.7 243.7L195.6 243.2L196.5 242.8L197.4 242.4L198.3 241.9L199.2 241.5L200.1 241.1L201.0 240.6L201.9 240.2L202.8 239.8L203.7 239.3L204.6 238.9L205.5 238.4L206.4 238.0L207.3 237.5L208.2 237.1L209.0 236.6L209.9 236.1L210.8 235.6L211.7 235.1L212.5 234.6L213.4 234.1L214.2 233.6L215.1 233.1L215.9 232.5L216.7 232.0L217.6 231.4L218.4 230.8L219.2 230.2L220.0 229.6L220.7 229.0L221.5 228.3L222.3 227.7L223.0 227.0L223.8 226.3L224.5 225.7L225.2 225.0L225.9 224.3L226.6 223.5L227.3 222.8L228.0 222.1L228.7 221.4L229.4 220.6L230.0 219.9L230.7 219.1L231.3 218.4L232.0 217.6L232.6 216.8L233.3 216.1L233.9 215.3L234.5 214.5L235.1 213.7L235.7 212.9L236.4 212.2L237.0 211.4L237.6 210.6L238.2 209.8L238.8 209.0L239.4 208.2L240.0 207.4L240.6 206.6L241.2 205.8L241.8 205.0L242.4 204.2L243.0 203.4L243.6 202.6L244.2 201.8L244.8 201.0L245.3 200.1L245.9 199.3L246.4 198.5L247.0 197.6L247.5 196.8L248.0 195.9L248.6 195.1L249.1 194.2L249.5 193.3L250.0 192.5L250.5 191.6L250.9 190.7L251.3 189.8L251.7 188.9L252.1 187.9L252.5 187.0L252.9 186.1L253.3 185.2L253.6 184.2L253.9 183.3L254.3 182.3L254.6 181.4L254.9 180.4L255.2 179.5L255.5 178.5L255.8 177.6L256.1 176.6L256.4 175.7L256.7 174.7L256.9 173.7L257.2 172.8L257.5 171.8L257.7 170.9L258.0 169.9L258.2 168.9L258.5 167.9L258.7 167.0L258.9 166.0L259.1 165.0L259.3 164.0L259.6 163.1L259.8 162.1L260.0 161.1L260.2 160.1L260.3 159.1L260.5 158.2L260.7 157.2L260.9 156.2L261.1 155.2L261.2 154.2L261.4 153.2L261.5 152.3L261.7 151.3L261.9 150.3L262.0 149.3L262.1 148.3L262.3 147.3L262.4 146.3L262.5 145.3L262.7 144.3L262.8 143.3L262.9 142.3L263.0 141.4L263.1 140.4L263.2 139.4L263.3 138.4L263.4 137.4L263.5 136.4L263.6 135.4L263.7 134.4L263.8 133.4L263.9 132.4L263.9 131.4L264.0 130.4L264.1 129.4L264.1 128.4L264.2 127.4L264.3 126.4L264.3 125.4L264.4 124.4L264.5 123.4L264.5 122.4L264.6 121.4L264.6 120.4L264.7 119.4L264.7 118.4L264.8 117.4L264.8 116.4L264.8 115.4L264.9 114.4L264.9 113.4L264.9 112.4L265.0 111.4L265.0 110.4L265.0 109.4L265.1 108.4L265.1 107.4L265.1 106.4L265.1 105.4L265.2 104.4L265.2 103.4L265.2 102.4L265.2 101.4L265.3 100.4L265.3 99.4L265.3 98.4L265.3 97.4L265.3 96.4L265.3 95.4L265.4 94.4L265.4 93.4L265.4 92.4L265.4 91.4L265.4 90.4L265.4 89.4L265.5 88.4L265.5 87.4L265.5 86.4L265.5 85.4L265.5 84.4L265.6 83.5L265.6 82.5L265.6 81.5L265.6 80.5L265.6 79.5L265.7 78.5L265.7 77.5L265.7 76.5L265.7 75.5L265.7 74.5L265.8 73.5L265.8 72.5L265.8 71.5L265.9 70.5L265.9 69.5L265.9 68.5L266.0 67.5L266.0 66.5L266.0 65.5L266.1 64.5L266.1 63.5L266.2 62.5L266.2 61.5L266.3 60.5L266.3 59.5L266.4 58.5L266.5 57.5L266.6 56.5L266.7 55.5L266.9 54.5L267.1 53.5L267.2 52.5L267.4 51.6L267.7 50.6L267.9 49.6L268.2 48.7L268.5 47.7L268.9 46.8L269.3 45.9L269.7 44.9L270.1 44.0L270.6 43.2L271.1 42.3L271.7 41.5L272.3 40.7L272.9 39.9L273.8 39.4L274.7 39.1L275.7 39.1L276.6 39.5L277.5 40.0L278.2 40.7L278.8 41.5L279.3 42.3L279.7 43.2L280.1 44.2L280.4 45.1L280.6 46.1L280.9 47.1L281.1 48.0L281.3 49.0L281.5 50.0L281.7 51.0L281.9 52.0L282.0 52.9L282.2 53.9L282.3 54.9L282.5 55.9L282.6 56.9L282.8 57.9L282.9 58.9L283.0 59.9L283.1 60.9L283.2 61.9L283.3 62.9L283.5 63.9L283.6 64.8L283.7 65.8L283.8 66.8L283.9 67.8L284.0 68.8L284.1 69.8L284.2 70.8L284.3 71.8L284.4 72.8L284.5 73.8L284.6 74.8L284.7 75.8L284.8 76.8L284.9 77.8L285.0 78.8L285.1 79.8L285.2 80.8L285.3 81.7L285.4 82.7L285.6 83.7L285.7 84.7L285.8 85.7L285.9 86.7L286.0 87.7L286.1 88.7L286.2 89.7L286.3 90.7L286.5 91.7L286.6 92.7L286.7 93.7L286.8 94.7L286.9 95.7L287.1 96.6L287.2 97.6L287.3 98.6L287.4 99.6L287.5 100.6L287.7 101.6L287.8 102.6L287.9 103.6L288.0 104.6L288.2 105.6L288.3 106.6L288.4 107.6L288.5 108.5L288.7 109.5L288.8 110.5L288.9 111.5L289.0 112.5L289.2 113.5L289.3 114.5L289.4 115.5L289.6 116.5L289.7 117.5L289.8 118.5L290.0 119.5L290.1 120.4L290.2 121.4L290.4 122.4L290.5 123.4L290.6 124.4L290.8 125.4L290.9 126.4L291.0 127.4L291.2 128.4L291.3 129.4L291.4 130.4L291.6 131.3L291.7 132.3L291.8 133.3L292.0 134.3L292.1 135.3L292.2 136.3L292.4 137.3L292.5 138.3L292.6 139.3L292.8 140.3L292.9 141.2L293.0 142.2L293.2 143.2L293.3 144.2L293.4 145.2L293.6 146.2L293.7 147.2L293.8 148.2L293.9 149.2L294.1 150.2L294.2 151.2L294.3 152.2L294.4 153.1L294.6 154.1L294.7 155.1L294.8 156.1L294.9 157.1L295.1 158.1L295.2 159.1L295.3 160.1L295.4 161.1L295.5 162.1L295.6 163.1L295.7 164.1L295.9 165.1L296.0 166.1L296.1 167.0L296.2 168.0L296.3 169.0L296.4 170.0L296.5 171.0L296.6 172.0L296.7 173.0L296.8 174.0L296.8 175.0L296.9 176.0L297.0 177.0L297.1 178.0L297.2 179.0L297.3 180.0L297.4 181.0L297.4 182.0L297.5 183.0L297.6 184.0L297.6 185.0L297.7 186.0L297.8 187.0L297.8 188.0L297.9 189.0L298.0 190.0L298.0 191.0L298.1 192.0L298.1 193.0L298.2 194.0L298.2 194.9L298.3 195.9L298.4 196.9L298.4 197.9L298.5 198.9L298.5 199.9L298.6 200.9L298.7 201.9L298.7 202.9L298.8 203.9L298.9 204.9L299.0 205.9L299.0 206.9L299.1 207.9L299.2 208.9L299.3 209.9L299.4 210.9L299.5 211.9L299.6 212.9L299.7 213.9L299.8 214.9L299.9 215.9L300.0 216.9L300.1 217.9L300.3 218.9L300.4 219.8L300.5 220.8L300.6 221.8L300.7 222.8L300.8 223.8L300.9 224.8L300.9 225.8L301.0 226.8L301.1 227.8L301.2 228.8L301.2 229.8L301.3 230.8L301.4 231.8L301.4 232.8L301.5 233.8L301.6 234.8L301.7 235.8L301.8 236.8L302.0 237.8L302.2 238.7L302.5 239.7L302.9 240.6L303.4 241.5L304.1 242.2L304.9 242.8L305.7 243.4L306.6 243.9L307.4 244.4L308.4 244.8L309.3 245.1L310.2 245.5L311.2 245.8L312.1 246.1L313.1 246.3L314.1 246.6L315.0 246.8L316.0 247.1L317.0 247.3L318.0 247.5L318.9 247.8L319.9 248.0L320.9 248.2L321.9 248.4L322.8 248.6L323.8 248.8L324.8 249.0L325.8 249.2L326.7 249.4L327.7 249.6L328.7 249.9L329.7 250.1L330.7 250.3L331.6 250.5L332.6 250.7L333.6 250.9L334.6 251.1L335.5 251.4L336.5 251.6L337.5 251.8L338.5 252.0L339.4 252.2L340.4 252.4L341.4 252.6L342.4 252.8L343.4 253.0L344.3 253.2L345.3 253.4L346.3 253.6L347.3 253.8L348.3 254.0L349.2 254.2L350.2 254.3L351.2 254.5L352.2 254.7L353.2 254.8L354.2 255.0L355.2 255.1L356.2 255.3L357.1 255.4L358.1 255.5L359.1 255.6L360.1 255.8L361.1 255.9L362.1 256.0L363.1 256.0L364.1 256.1L365.1 256.2L366.1 256.3L367.1 256.3L368.1 256.4L369.1 256.4L370.1 256.5L371.1 256.5L372.1 256.5L373.1 256.5L374.1 256.6L375.1 256.6L376.1 256.6L377.1 256.6L378.1 256.6L379.1 256.7L380.1 256.7L381.1 256.7L382.1 256.7L383.1 256.7L384.1 256.7L385.1 256.7L386.1 256.7L387.1 256.7L388.1 256.7L389.1 256.7L390.1 256.7L391.1 256.7L392.1 256.7L393.1 256.8L394.1 256.8L395.1 256.8L396.1 256.8L397.1 256.8L398.1 256.8L399.1 256.8L400.1 256.8L401.1 256.8L402.1 256.8L403.1 256.8L404.1 256.8L405.1 256.9L406.1 256.9L407.1 256.9L408.1 256.9L409.1 256.9L410.1 256.9L411.1 256.9L412.1 256.9L413.1 256.9L414.1 256.9L415.1 257.0L416.1 257.0L417.1 257.0L418.1 257.0L419.1 257.0L420.1 257.0L421.1 257.0L422.1 257.0L423.1 257.0L424.1 257.0L425.1 257.1L426.1 257.1L427.1 257.1L428.1 257.1L429.1 257.1L430.1 257.1L431.1 257.1L432.1 257.1L433.1 257.1L434.1 257.2L435.1 257.2L436.1 257.2L437.1 257.2L438.1 257.2L439.1 257.2L440.1 257.2L441.1 257.2L442.1 257.2L443.1 257.3L444.1 257.3L445.1 257.3L446.1 257.3L447.1 257.3L448.1 257.3L449.1 257.3L450.1 257.3L451.1 257.4L452.1 257.4L453.1 257.4L454.1 257.4L455.1 257.4L456.1 257.4L457.1 257.4L458.1 257.4L459.1 257.5L460.1 257.5L461.1 257.5L462.1 257.5L463.1 257.5L464.1 257.5L465.1 257.5L466.1 257.6L467.1 257.6L468.1 257.6L469.1 257.6L470.1 257.6L471.1 257.6L472.1 257.7L473.1 257.7L474.1 257.7L475.1 257.7L476.1 257.7L477.1 257.7L478.1 257.8L479.1 257.8L480.1 257.8L481.1 257.8L482.1 257.8L483.1 257.8L484.1 257.8L485.1 257.8L486.1 257.9L487.1 257.9L488.1 257.9L489.1 257.9L490.1 257.9L491.1 257.9L492.1 257.9L493.1 257.9L494.1 258.0L495.1 258.0L496.1 258.0L497.1 258.0L498.1 258.0L499.1 258.0L500.1 258.0L501.1 258.0L502.1 258.1L503.1 258.1L504.1 258.1L505.1 258.1L506.1 258.1L507.1 258.1L508.1 258.1L509.1 258.1L510.1 258.1L511.1 258.2L512.1 258.2L513.1 258.2L514.1 258.2L515.1 258.2L516.1 258.2L517.1 258.2L518.1 258.2L519.1 258.2L520.1 258.2L521.1 258.3L522.1 258.3L523.0 258.3L524.0 258.3L525.0 258.3L526.0 258.3L527.0 258.3L528.0 258.3L529.0 258.3L530.0 258.4L531.0 258.4L532.0 258.4L533.0 258.4L534.0 258.4L535.0 258.4L536.0 258.4L537.0 258.4L538.0 258.4L539.0 258.4L540.0 258.5L541.0 258.5L542.0 258.5L543.0 258.5L544.0 258.5L545.0 258.5L546.0 258.5L547.0 258.5L548.0 258.6L549.0 258.6L550.0 258.6L551.0 258.6L552.0 258.6L553.0 258.6L554.0 258.6L555.0 258.6L556.0 258.7L557.0 258.7L558.0 258.7L559.0 258.7L560.0 258.7L561.0 258.7L562.0 258.7L563.0 258.7L564.0 258.8L565.0 258.8L566.0 258.8L567.0 258.8L568.0 258.8L569.0 258.8L570.0 258.8L571.0 258.9L572.0 258.9L573.0 258.9L574.0 258.9L575.0 258.9L576.0 258.9L577.0 259.0L578.0 259.0L579.0 259.0L580.0 259.0L581.0 259.0L582.0 259.0L583.0 259.1L584.0 259.1L585.0 259.1L586.0 259.1L587.0 259.1L588.0 259.2L589.0 259.2L590.0 259.2L591.0 259.2L592.0 259.2L593.0 259.3L594.0 259.3L595.0 259.3L596.0 259.3L597.0 259.3L598.0 259.4L599.0 259.4L600.0 259.4L601.0 259.4L602.0 259.5L603.0 259.5L604.0 259.5L605.0 259.5L606.0 259.6L607.0 259.6L608.0 259.6L609.0 259.6L610.0 259.7L611.0 259.7L612.0 259.7L613.0 259.7L614.0 259.8L615.0 259.8L616.0 259.8L617.0 259.8L618.0 259.9L619.0 259.9L620.0 259.9" fill="none" stroke="#b03030" stroke-width="2.0" stroke-linejoin="round" stroke-linecap="round"/>
<path d="M91.3 285.5L92.3 285.5L93.3 285.5L94.3 285.6L95.3 285.6L96.3 285.6L97.3 285.7L98.3 285.7L99.3 285.7L100.3 285.8L101.3 285.8L102.3 285.8L103.3 285.9L104.3 285.9L105.3 285.9L106.3 285.9L107.3 286.0L108.3 286.0L109.3 286.0L110.3 286.1L111.3 286.1L112.3 286.1L113.3 286.2L114.3 286.2L115.3 286.2L116.3 286.3L117.3 286.3L118.3 286.3L119.3 286.3L120.3 286.4L121.2 286.4L122.2 286.4L123.2 286.5L124.2 286.5L125.2 286.5L126.2 286.6L127.2 286.6L128.2 286.6L129.2 286.7L130.2 286.7L131.2 286.7L132.2 286.8L133.2 286.8L134.2 286.8L135.2 286.8L136.2 286.9L137.2 286.9L138.2 287.0L139.2 287.0L140.2 287.0L141.2 287.1L142.2 287.1L143.2 287.1L144.2 287.2L145.2 287.2L146.2 287.2L147.2 287.3L148.2 287.3L149.2 287.4L150.2 287.4L151.2 287.4L152.2 287.5L153.2 287.5L154.2 287.6L155.2 287.6L156.2 287.6L157.2 287.7L158.2 287.7L159.2 287.8L160.2 287.8L161.2 287.9L162.2 287.9L163.2 287.9L164.2 288.0L165.2 288.0L166.2 288.1L167.2 288.1L168.2 288.2L169.2 288.2L170.2 288.3L171.2 288.3L172.2 288.4L173.2 288.4L174.2 288.5L175.1 288.6L176.1 288.6L177.1 288.7L178.1 288.7L179.1 288.8L180.1 288.9L181.1 289.1L182.1 289.3L183.1 289.5L184.0 289.7L185.0 290.0L185.9 290.4L186.8 290.8L187.7 291.3L188.6 291.8L189.4 292.3L190.2 292.9L191.0 293.6L191.7 294.2L192.5 294.9L193.2 295.6L193.8 296.3L194.5 297.1L195.1 297.9L195.7 298.7L196.3 299.5L196.9 300.3L197.4 301.1L198.0 302.0L198.5 302.8L199.0 303.7L199.5 304.6L200.0 305.5L200.4 306.4L200.9 307.3L201.3 308.2L201.8 309.1L202.2 310.0L202.6 310.9L203.0 311.9L203.4 312.8L203.7 313.7L204.1 314.7L204.4 315.6L204.8 316.5L205.1 317.5L205.4 318.4L205.8 319.4L206.1 320.3L206.4 321.3L206.7 322.2L207.0 323.2L207.3 324.1L207.6 325.1L207.9 326.0L208.2 327.0L208.5 327.9L208.8 328.9L209.1 329.8L209.4 330.8L209.6 331.8L209.9 332.7L210.2 333.7L210.5 334.6L210.7 335.6L211.0 336.6L211.3 337.5L211.6 338.5L212.0 339.4L212.4 340.3L212.9 341.2L213.5 342.0L214.2 342.7L215.0 343.3L215.8 343.8L216.8 344.0L217.8 343.9L218.7 343.5L219.6 343.0L220.4 342.4L221.1 341.7L221.7 340.9L222.3 340.1L222.7 339.2L223.2 338.3L223.5 337.4L223.8 336.4L224.1 335.5L224.4 334.5L224.7 333.6L225.0 332.6L225.3 331.6L225.6 330.7L225.9 329.8L226.3 328.8L226.7 327.9L227.2 327.0L227.6 326.1L228.1 325.3L228.7 324.4L229.2 323.6L229.8 322.8L230.5 322.0L231.1 321.3L231.8 320.6L232.6 319.9L233.3 319.3L234.1 318.7L235.0 318.1L235.8 317.6L236.7 317.2L237.7 316.8L238.6 316.5L239.6 316.3L240.6 316.1L241.6 316.0L242.6 315.9L243.6 315.8L244.6 315.8L245.6 315.7L246.6 315.7L247.6 315.6L248.6 315.6L249.6 315.5L250.5 315.5L251.5 315.4L252.5 315.3L253.5 315.3L254.5 315.2L255.5 315.2L256.5 315.1L257.5 315.1L258.5 315.0L259.5 315.0L260.5 314.9L261.5 314.9L262.5 314.9L263.5 314.9L264.5 314.8L265.5 314.8L266.5 314.8L267.5 314.9L268.5 314.9L269.5 314.9L270.5 315.0L271.5 315.1L272.5 315.2L273.5 315.3L274.5 315.4L275.5 315.5L276.5 315.7L277.5 315.8L278.4 316.0L279.4 316.3L280.4 316.5L281.3 316.8L282.3 317.1L283.2 317.4L284.2 317.8L285.1 318.1L286.0 318.5L286.9 319.0L287.8 319.4L288.7 319.9L289.6 320.4L290.4 320.9L291.3 321.4L292.1 322.0L292.9 322.6L293.7 323.2L294.5 323.8L295.3 324.4L296.1 325.0L296.8 325.7L297.6 326.3L298.3 327.0L299.0 327.7L299.8 328.4L300.5 329.1L301.2 329.8L301.9 330.5L302.5 331.3L303.2 332.0L303.9 332.8L304.5 333.5L305.2 334.3L305.8 335.1L306.4 335.8L307.1 336.6L307.7 337.4L308.3 338.2L308.9 339.0L309.4 339.8L310.0 340.6L310.6 341.5L311.1 342.3L311.7 343.1L312.2 344.0L312.7 344.9L313.2 345.7L313.7 346.6L314.2 347.5L314.6 348.4L315.1 349.3L315.5 350.2L315.9 351.1L316.3 352.0L316.7 352.9L317.0 353.8L317.4 354.8L317.7 355.7L318.1 356.7L318.4 357.6L318.7 358.6L318.9 359.5L319.2 360.5L319.5 361.5L319.7 362.4L320.0 363.4L320.2 364.4L320.4 365.3L320.7 366.3L320.9 367.3L321.1 368.3L321.3 369.2L321.5 370.2L321.7 371.2L321.9 372.2L322.0 373.2L322.2 374.2L322.4 375.1L322.6 376.1L322.8 377.1L322.9 378.1L323.1 379.1L323.3 380.1L323.5 381.0L323.6 382.0L323.8 383.0L324.0 384.0L324.1 385.0L324.3 386.0L324.5 387.0L324.6 387.9L324.8 388.9L324.9 389.9L325.1 390.9L325.2 391.9L325.4 392.9L325.5 393.9L325.7 394.9L325.8 395.8L325.9 396.8L326.1 397.8L326.2 398.8L326.3 399.8L326.4 400.8L326.6 401.8L326.7 402.8L326.8 403.8L326.9 404.8L327.0 405.8L327.1 406.8L327.2 407.8L327.2 408.8L327.3 409.8L327.4 410.8L327.5 411.7L327.6 412.7L327.6 413.7L327.7 414.7L327.8 415.7L327.9 416.7L327.9 417.7L328.0 418.7L328.1 419.7L328.2 420.7L328.2 421.7L328.3 422.7L328.4 423.7L328.4 424.7L328.5 425.7L328.6 426.7L328.7 427.7L328.8 428.7L328.8 429.7L328.9 430.7L329.0 431.7L329.1 432.7L329.2 433.7L329.3 434.7L329.4 435.7L329.5 436.7L329.6 437.7L329.7 438.6L329.8 439.6L329.9 440.6L330.0 441.6L330.2 442.6L330.3 443.6L330.4 444.6L330.6 445.6L330.7 446.6L330.9 447.6L331.0 448.6L331.2 449.5L331.3 450.5L331.5 451.5L331.6 452.5L331.8 453.5L331.9 454.5L332.1 455.5L332.2 456.5L332.4 457.4L332.5 458.4L332.7 459.4L332.9 460.4L333.0 461.4L333.2 462.4L333.3 463.4L333.5 464.4L333.6 465.3L333.7 466.3L333.9 467.3L334.0 468.3L334.2 469.3L334.3 470.3L334.4 471.3L334.5 472.3L334.6 473.3L334.8 474.3L334.9 475.3L335.0 476.3L335.1 477.3L335.2 478.2L335.2 479.2L335.3 480.2L335.4 481.2L335.5 482.2L335.5 483.2L335.6 484.2L335.7 485.2L335.7 486.2L335.8 487.2L335.9 488.2L335.9 489.2L336.0 490.2L336.1 491.2L336.2 492.2L336.3 493.2L336.4 494.2L336.6 495.2L336.7 496.2L336.9 497.2L337.1 498.1L337.3 499.1L337.5 500.1L337.8 501.1L338.0 502.0L338.3 503.0L338.6 503.9L339.0 504.9L339.4 505.8L339.8 506.7L340.3 507.5L341.0 508.2L342.0 508.4L342.9 508.1L343.7 507.5L344.4 506.8L345.0 506.0L345.5 505.1L345.9 504.2L346.2 503.2L346.5 502.3L346.7 501.3L346.9 500.3L347.1 499.3L347.2 498.3L347.4 497.3L347.6 496.4L347.7 495.4L347.9 494.4L348.0 493.4L348.2 492.4L348.3 491.4L348.5 490.4L348.6 489.4L348.8 488.4L348.9 487.5L349.0 486.5L349.2 485.5L349.3 484.5L349.4 483.5L349.5 482.5L349.7 481.5L349.8 480.5L349.9 479.5L350.0 478.5L350.1 477.5L350.2 476.5L350.3 475.6L350.4 474.6L350.5 473.6L350.6 472.6L350.7 471.6L350.8 470.6L350.9 469.6L351.0 468.6L351.1 467.6L351.2 466.6L351.3 465.6L351.4 464.6L351.5 463.6L351.6 462.6L351.7 461.6L351.8 460.6L351.9 459.6L351.9 458.6L352.0 457.6L352.1 456.6L352.2 455.6L352.3 454.7L352.4 453.7L352.5 452.7L352.5 451.7L352.6 450.7L352.7 449.7L352.8 448.7L352.9 447.7L353.0 446.7L353.1 445.7L353.2 444.7L353.2 443.7L353.3 442.7L353.4 441.7L353.5 440.7L353.6 439.7L353.7 438.7L353.8 437.7L353.9 436.7L354.0 435.7L354.1 434.7L354.2 433.7L354.3 432.8L354.4 431.8L354.5 430.8L354.6 429.8L354.8 428.8L354.9 427.8L355.0 426.8L355.1 425.8L355.2 424.8L355.3 423.8L355.5 422.8L355.6 421.8L355.7 420.8L355.8 419.8L355.9 418.9L356.1 417.9L356.2 416.9L356.3 415.9L356.4 414.9L356.6 413.9L356.7 412.9L356.8 411.9L356.9 410.9L357.1 409.9L357.2 408.9L357.3 407.9L357.5 407.0L357.6 406.0L357.7 405.0L357.8 404.0L358.0 403.0L358.1 402.0L358.2 401.0L358.4 400.0L358.5 399.0L358.6 398.0L358.7 397.0L358.9 396.1L359.0 395.1L359.1 394.1L359.2 393.1L359.4 392.1L359.5 391.1L359.6 390.1L359.7 389.1L359.9 388.1L360.0 387.1L360.1 386.1L360.2 385.1L360.3 384.1L360.5 383.2L360.6 382.2L360.7 381.2L360.8 380.2L360.9 379.2L361.0 378.2L361.1 377.2L361.3 376.2L361.4 375.2L361.5 374.2L361.6 373.2L361.7 372.2L361.8 371.2L361.9 370.2L362.0 369.2L362.1 368.2L362.1 367.3L362.2 366.3L362.3 365.3L362.4 364.3L362.5 363.3L362.6 362.3L362.7 361.3L362.8 360.3L362.9 359.3L363.0 358.3L363.1 357.3L363.2 356.3L363.2 355.3L363.3 354.3L363.4 353.3L363.6 352.3L363.7 351.3L363.8 350.3L363.9 349.3L364.0 348.3L364.1 347.4L364.2 346.4L364.4 345.4L364.5 344.4L364.6 343.4L364.8 342.4L364.9 341.4L365.1 340.4L365.2 339.4L365.4 338.5L365.6 337.5L365.8 336.5L366.0 335.5L366.2 334.5L366.4 333.5L366.6 332.6L366.8 331.6L367.0 330.6L367.2 329.6L367.5 328.7L367.7 327.7L368.0 326.7L368.2 325.8L368.5 324.8L368.7 323.8L369.0 322.9L369.2 321.9L369.5 320.9L369.8 320.0L370.0 319.0L370.3 318.0L370.6 317.1L370.8 316.1L371.1 315.2L371.3 314.2L371.6 313.2L371.8 312.3L372.1 311.3L372.3 310.3L372.6 309.3L372.8 308.4L373.0 307.4L373.3 306.4L373.5 305.5L373.7 304.5L374.0 303.5L374.2 302.5L374.5 301.6L374.7 300.6L375.0 299.7L375.3 298.7L375.6 297.7L375.9 296.8L376.3 295.9L376.6 294.9L377.1 294.0L377.5 293.1L378.1 292.3L378.6 291.5L379.3 290.7L380.0 290.1L380.8 289.5L381.7 288.9L382.6 288.5L383.5 288.2L384.5 287.9L385.5 287.7L386.5 287.6L387.5 287.5L388.5 287.4L389.5 287.3L390.5 287.2L391.5 287.1L392.4 287.0L393.4 286.9L394.4 286.7L395.4 286.5L396.4 286.4L397.4 286.2L398.4 286.0L399.3 285.8L400.3 285.7L401.3 285.5L402.3 285.4L403.3 285.2L404.3 285.1L405.3 285.0L406.3 284.8L407.3 284.7L408.3 284.6L409.2 284.5L410.2 284.4L411.2 284.3L412.2 284.2L413.2 284.2L414.2 284.1L415.2 284.0L416.2 283.9L417.2 283.9L418.2 283.8L419.2 283.8L420.2 283.7L421.2 283.7L422.2 283.6L423.2 283.6L424.2 283.5L425.2 283.5L426.3 283.5L427.3 283.5L428.3 283.5L429.3 283.5L430.3 283.5L431.3 283.5L432.3 283.5L433.3 283.4L434.3 283.4L435.3 283.4L436.3 283.4L437.3 283.4L438.3 283.4L439.3 283.4L440.3 283.4L441.3 283.4L442.3 283.4L443.3 283.4L444.3 283.4L445.3 283.4L446.3 283.4L447.3 283.4L448.3 283.4L449.3 283.4L450.3 283.4L451.3 283.4L452.3 283.4L453.3 283.4L454.3 283.4L455.3 283.4L456.3 283.4L457.3 283.4L458.3 283.3L459.3 283.3L460.3 283.3L461.3 283.3L462.3 283.3L463.3 283.3L464.3 283.3L465.3 283.3L466.3 283.3L467.3 283.3L468.3 283.3L469.3 283.3L470.3 283.2L471.3 283.2L472.3 283.2L473.3 283.2L474.3 283.2L475.3 283.2L476.3 283.2L477.3 283.2L478.3 283.2L479.3 283.2L480.3 283.1L481.3 283.1L482.2 283.1L483.2 283.1L484.2 283.1L485.2 283.1L486.2 283.1L487.2 283.0L488.2 283.0L489.2 283.0L490.2 283.0L491.2 283.0L492.2 283.0L493.2 283.0L494.2 282.9L495.2 282.9L496.2 282.9L497.2 282.9L498.2 282.9L499.2 282.9L500.2 282.9L501.2 282.8L502.2 282.8L503.2 282.8L504.2 282.8L505.2 282.8L506.2 282.8L507.2 282.7L508.2 282.7L509.2 282.7L510.2 282.7L511.2 282.7L512.2 282.7L513.2 282.6L514.2 282.6L515.2 282.6L516.2 282.6L517.2 282.6L518.2 282.6L519.2 282.5L520.2 282.5L521.2 282.5L522.2 282.5L523.2 282.5L524.2 282.4L525.2 282.4L526.2 282.4L527.2 282.4L528.2 282.4L529.2 282.4L530.2 282.3L531.2 282.3L532.2 282.3L533.2 282.3L534.2 282.3L535.2 282.3L536.2 282.2L537.2 282.2L538.2 282.2L539.2 282.2L540.2 282.2L541.2 282.1L542.2 282.1L543.2 282.1L544.2 282.1L545.2 282.1L546.2 282.1L547.2 282.0L548.2 282.0L549.2 282.0L550.2 282.0L551.2 282.0L552.2 281.9L553.2 281.9L554.2 281.9L555.2 281.9L556.2 281.9L557.2 281.9L558.2 281.8L559.2 281.8L560.2 281.8L561.2 281.8L562.2 281.8L563.2 281.8L564.2 281.7L565.2 281.7L566.2 281.7L567.2 281.7L568.2 281.7L569.2 281.7L570.2 281.6L571.2 281.6L572.2 281.6L573.2 281.6L574.2 281.6L575.2 281.6L576.2 281.6L577.2 281.5L578.1 281.5L579.1 281.5L580.1 281.5L581.1 281.5L582.1 281.5L583.1 281.5L584.1 281.4L585.1 281.4L586.1 281.4L587.1 281.4L588.1 281.4L589.1 281.4L590.1 281.4L591.1 281.4L592.1 281.4L593.1 281.3L594.1 281.3L595.1 281.3L596.1 281.3L597.1 281.3L598.1 281.3L599.1 281.3L600.1 281.3L601.1 281.3L602.1 281.3L603.1 281.2L604.1 281.2L605.1 281.2L606.1 281.2L607.1 281.2L608.1 281.2L609.1 281.2L610.1 281.2L611.1 281.2L612.1 281.2L613.1 281.2L614.1 281.2L615.1 281.2L616.1 281.2L617.1 281.2L618.1 281.2L619.1 281.1L620.1 281.1" fill="none" stroke="#b03030" stroke-width="2.0" stroke-linejoin="round" stroke-linecap="round"/>
<path d="M89.6 250.8L90.6 250.7L91.6 250.6L92.6 250.5L93.6 250.4L94.6 250.3L95.6 250.3L96.6 250.2L97.6 250.1L98.6 250.1L99.6 250.1L100.6 250.0L101.6 250.0L102.5 249.9L103.5 249.9L104.5 249.9L105.5 249.8L106.5 249.8L107.5 249.8L108.5 249.8L109.5 249.7L110.5 249.7L111.5 249.7L112.5 249.6L113.5 249.6L114.5 249.5L115.5 249.5L116.5 249.4L117.5 249.4L118.5 249.3L119.5 249.3L120.5 249.2L121.5 249.1L122.5 249.0L123.5 248.9L124.5 248.8L125.5 248.7L126.5 248.6L127.5 248.4L128.5 248.3L129.5 248.1L130.4 247.9L131.4 247.8L132.4 247.5L133.4 247.3L134.3 247.1L135.3 246.8L136.3 246.6L137.2 246.3L138.2 246.0L139.1 245.7L140.1 245.3L141.0 245.0L141.9 244.6L142.8 244.2L143.7 243.7L144.6 243.3L145.5 242.8L146.4 242.3L147.2 241.8L148.1 241.3L148.9 240.7L149.7 240.1L150.5 239.5L151.3 238.9L152.0 238.2L152.8 237.6L153.5 236.9L154.2 236.1L154.9 235.4L155.5 234.7L156.2 233.9L156.8 233.1L157.4 232.3L157.9 231.5L158.5 230.6L159.0 229.8L159.5 228.9L159.9 228.0L160.4 227.1L160.7 226.2L161.1 225.2L161.4 224.3L161.8 223.4L162.0 222.4L162.3 221.4L162.5 220.4L162.7 219.5L162.8 218.5L163.0 217.5L163.2 216.5L163.4 215.5L163.8 214.6L164.4 213.8L165.3 213.4L166.3 213.3L167.1 213.8L167.8 214.5L168.4 215.3L168.9 216.2L169.3 217.1L169.8 218.0L170.2 218.9L170.6 219.8L170.9 220.7L171.3 221.7L171.7 222.6L172.0 223.5L172.4 224.5L172.7 225.4L173.0 226.4L173.4 227.3L173.7 228.3L174.0 229.2L174.4 230.1L174.7 231.1L175.0 232.0L175.4 233.0L175.8 233.9L176.1 234.8L176.5 235.7L176.9 236.7L177.3 237.6L177.8 238.4L178.3 239.3L178.8 240.2L179.4 241.0L180.0 241.8L180.7 242.5L181.5 243.1L182.3 243.7L183.1 244.2L184.0 244.7L185.0 245.0L185.9 245.3L186.9 245.4L187.9 245.5L188.9 245.4L189.9 245.2L190.9 244.9L191.8 244.6L192.7 244.2L193.6 243.8L194.6 243.4L195.5 243.0L196.4 242.6L197.3 242.2L198.2 241.8L199.1 241.4L200.1 241.0L201.0 240.6L201.9 240.2L202.8 239.8L203.7 239.4L204.6 239.0L205.5 238.6L206.4 238.1L207.3 237.7L208.2 237.2L209.1 236.7L210.0 236.2L210.8 235.7L211.7 235.2L212.5 234.6L213.3 234.1L214.1 233.5L214.9 232.9L215.7 232.3L216.5 231.6L217.2 231.0L218.0 230.3L218.7 229.6L219.4 228.9L220.1 228.2L220.8 227.5L221.5 226.8L222.2 226.0L222.8 225.3L223.5 224.5L224.1 223.7L224.7 222.9L225.3 222.1L225.9 221.3L226.5 220.5L227.1 219.7L227.7 218.9L228.3 218.1L228.8 217.3L229.4 216.4L229.9 215.6L230.5 214.8L231.0 213.9L231.6 213.1L232.1 212.3L232.6 211.4L233.2 210.6L233.7 209.7L234.2 208.9L234.7 208.0L235.2 207.1L235.7 206.2L236.2 205.4L236.6 204.5L237.1 203.6L237.5 202.7L238.0 201.8L238.4 200.9L238.8 200.0L239.2 199.1L239.6 198.1L239.9 197.2L240.3 196.3L240.6 195.3L241.0 194.4L241.3 193.4L241.6 192.5L241.8 191.5L242.1 190.5L242.4 189.6L242.7 188.6L243.0 187.7L243.4 186.7L243.7 185.8L244.1 184.8L244.4 183.9L244.7 183.0L245.1 182.0L245.4 181.1L245.7 180.1L246.0 179.2L246.3 178.2L246.6 177.3L246.9 176.3L247.3 175.4L247.6 174.4L247.9 173.5L248.2 172.5L248.5 171.6L248.8 170.6L249.1 169.7L249.4 168.7L249.7 167.8L250.1 166.8L250.4 165.9L250.7 164.9L251.0 164.0L251.3 163.0L251.6 162.1L251.9 161.1L252.2 160.2L252.5 159.2L252.8 158.3L253.1 157.3L253.4 156.3L253.7 155.4L254.0 154.4L254.3 153.5L254.6 152.5L254.9 151.6L255.2 150.6L255.5 149.6L255.7 148.7L256.0 147.7L256.3 146.8L256.5 145.8L256.8 144.8L257.1 143.9L257.3 142.9L257.6 141.9L257.8 141.0L258.0 140.0L258.3 139.0L258.5 138.0L258.7 137.1L258.9 136.1L259.1 135.1L259.4 134.1L259.6 133.2L259.7 132.2L259.9 131.2L260.1 130.2L260.3 129.2L260.4 128.2L260.6 127.3L260.8 126.3L260.9 125.3L261.0 124.3L261.2 123.3L261.3 122.3L261.4 121.3L261.5 120.3L261.7 119.3L261.8 118.3L261.9 117.3L262.0 116.3L262.0 115.4L262.1 114.4L262.2 113.4L262.3 112.4L262.4 111.4L262.4 110.4L262.5 109.4L262.6 108.4L262.6 107.4L262.7 106.4L262.7 105.4L262.8 104.4L262.8 103.4L262.9 102.4L262.9 101.4L262.9 100.4L263.0 99.4L263.0 98.4L263.0 97.4L263.1 96.4L263.1 95.4L263.1 94.4L263.2 93.4L263.2 92.4L263.2 91.4L263.2 90.4L263.2 89.4L263.3 88.4L263.3 87.4L263.3 86.4L263.3 85.4L263.3 84.4L263.4 83.4L263.4 82.4L263.4 81.4L263.4 80.4L263.4 79.4L263.5 78.4L263.5 77.4L263.5 76.4L263.5 75.4L263.6 74.4L263.6 73.4L263.6 72.4L263.7 71.4L263.7 70.4L263.8 69.4L263.9 68.4L263.9 67.4L264.0 66.4L264.1 65.4L264.2 64.4L264.3 63.4L264.4 62.4L264.6 61.5L264.7 60.5L264.9 59.5L265.1 58.5L265.3 57.5L265.5 56.5L265.7 55.6L266.0 54.6L266.2 53.6L266.5 52.7L266.8 51.7L267.1 50.8L267.5 49.8L267.8 48.9L268.2 48.0L268.7 47.1L269.3 46.3L270.0 45.6L270.9 45.1L271.9 44.9L272.9 44.8L273.9 44.9L274.8 45.1L275.8 45.4L276.6 45.9L277.4 46.6L278.0 47.4L278.6 48.2L279.0 49.1L279.4 50.0L279.7 51.0L279.9 51.9L280.2 52.9L280.4 53.9L280.6 54.9L280.7 55.9L280.9 56.8L281.0 57.8L281.2 58.8L281.3 59.8L281.4 60.8L281.4 61.8L281.5 62.8L281.6 63.8L281.6 64.8L281.7 65.8L281.7 66.8L281.8 67.8L281.8 68.8L281.9 69.8L282.0 70.8L282.0 71.8L282.1 72.8L282.1 73.8L282.2 74.8L282.3 75.8L282.3 76.8L282.4 77.8L282.5 78.8L282.6 79.8L282.7 80.8L282.7 81.8L282.8 82.8L282.9 83.8L283.0 84.7L283.1 85.7L283.2 86.7L283.3 87.7L283.4 88.7L283.5 89.7L283.6 90.7L283.7 91.7L283.8 92.7L283.9 93.7L284.1 94.7L284.2 95.7L284.3 96.7L284.4 97.7L284.5 98.7L284.7 99.7L284.8 100.6L284.9 101.6L285.1 102.6L285.2 103.6L285.3 104.6L285.5 105.6L285.6 106.6L285.7 107.6L285.9 108.6L286.0 109.6L286.2 110.5L286.3 111.5L286.5 112.5L286.6 113.5L286.8 114.5L286.9 115.5L287.1 116.5L287.2 117.5L287.4 118.4L287.6 119.4L287.7 120.4L287.9 121.4L288.0 122.4L288.2 123.4L288.4 124.4L288.5 125.3L288.7 126.3L288.9 127.3L289.1 128.3L289.2 129.3L289.4 130.3L289.6 131.3L289.7 132.2L289.9 133.2L290.1 134.2L290.3 135.2L290.5 136.2L290.6 137.2L290.8 138.1L291.0 139.1L291.2 140.1L291.4 141.1L291.6 142.1L291.8 143.1L291.9 144.0L292.1 145.0L292.3 146.0L292.5 147.0L292.7 148.0L292.9 148.9L293.1 149.9L293.3 150.9L293.5 151.9L293.7 152.9L293.9 153.8L294.1 154.8L294.3 155.8L294.5 156.8L294.7 157.8L294.9 158.7L295.1 159.7L295.3 160.7L295.5 161.7L295.7 162.6L295.9 163.6L296.1 164.6L296.3 165.6L296.5 166.6L296.7 167.5L296.9 168.5L297.1 169.5L297.3 170.5L297.5 171.5L297.7 172.4L297.9 173.4L298.0 174.4L298.2 175.4L298.4 176.4L298.5 177.4L298.7 178.4L298.8 179.3L299.0 180.3L299.1 181.3L299.3 182.3L299.4 183.3L299.6 184.3L299.7 185.3L299.8 186.3L300.0 187.3L300.1 188.3L300.2 189.2L300.3 190.2L300.5 191.2L300.6 192.2L300.7 193.2L300.8 194.2L301.0 195.2L301.1 196.2L301.2 197.2L301.3 198.2L301.5 199.2L301.6 200.2L301.7 201.2L301.8 202.1L302.0 203.1L302.1 204.1L302.2 205.1L302.3 206.1L302.5 207.1L302.6 208.1L302.7 209.1L302.9 210.1L303.0 211.1L303.1 212.1L303.2 213.0L303.4 214.0L303.5 215.0L303.6 216.0L303.7 217.0L303.8 218.0L303.9 219.0L304.0 220.0L304.1 221.0L304.2 222.0L304.3 223.0L304.4 224.0L304.4 225.0L304.5 226.0L304.6 227.0L304.6 228.0L304.7 229.0L304.7 230.0L304.8 231.0L304.9 232.0L305.1 233.0L305.2 233.9L305.4 234.9L305.7 235.9L306.0 236.8L306.5 237.7L307.0 238.6L307.6 239.4L308.3 240.1L309.1 240.7L310.0 241.2L310.9 241.6L311.8 242.0L312.7 242.4L313.6 242.8L314.6 243.1L315.5 243.5L316.4 243.8L317.4 244.2L318.3 244.5L319.3 244.8L320.2 245.2L321.2 245.5L322.1 245.8L323.1 246.1L324.0 246.4L325.0 246.7L325.9 247.0L326.9 247.3L327.8 247.5L328.8 247.8L329.8 248.1L330.7 248.3L331.7 248.6L332.7 248.8L333.7 249.0L334.6 249.3L335.6 249.5L336.6 249.7L337.5 249.9L338.5 250.1L339.5 250.3L340.5 250.5L341.5 250.7L342.5 250.9L343.4 251.1L344.4 251.2L345.4 251.4L346.4 251.6L347.4 251.7L348.4 251.9L349.4 252.1L350.3 252.2L351.3 252.3L352.3 252.5L353.3 252.6L354.3 252.7L355.3 252.9L356.3 253.0L357.3 253.1L358.3 253.2L359.3 253.3L360.3 253.5L361.2 253.6L362.2 253.7L363.2 253.8L364.2 253.9L365.2 254.0L366.2 254.0L367.2 254.1L368.2 254.2L369.2 254.3L370.2 254.4L371.2 254.5L372.2 254.5L373.2 254.6L374.2 254.7L375.2 254.8L376.2 254.8L377.2 254.9L378.2 255.0L379.2 255.0L380.2 255.1L381.2 255.2L382.2 255.2L383.2 255.3L384.2 255.3L385.2 255.4L386.2 255.4L387.2 255.5L388.2 255.6L389.2 255.6L390.2 255.7L391.2 255.7L392.2 255.8L393.2 255.8L394.2 255.9L395.1 255.9L396.1 256.0L397.1 256.0L398.1 256.1L399.1 256.1L400.1 256.2L401.1 256.2L402.1 256.3L403.1 256.3L404.1 256.4L405.1 256.4L406.1 256.5L407.1 256.5L408.1 256.5L409.1 256.6L410.1 256.6L411.1 256.7L412.1 256.7L413.1 256.7L414.1 256.8L415.1 256.8L416.1 256.8L417.1 256.9L418.1 256.9L419.1 257.0L420.1 257.0L421.1 257.0L422.1 257.1L423.1 257.1L424.1 257.1L425.1 257.2L426.1 257.2L427.1 257.2L428.1 257.2L429.1 257.3L430.1 257.3L431.1 257.3L432.1 257.4L433.1 257.4L434.1 257.4L435.1 257.4L436.1 257.5L437.1 257.5L438.1 257.5L439.1 257.5L440.1 257.6L441.1 257.5L442.1 257.5L443.1 257.5L444.1 257.5L445.1 257.5L446.1 257.4L447.1 257.4L448.1 257.4L449.1 257.4L450.1 257.4L451.1 257.3L452.1 257.3L453.1 257.3L454.1 257.4L455.1 257.4L456.1 257.4L457.1 257.4L458.1 257.4L459.1 257.5L460.1 257.5L461.1 257.5L462.1 257.5L463.1 257.5L464.1 257.5L465.1 257.6L466.1 257.6L467.1 257.6L468.1 257.6L469.1 257.6L470.1 257.6L471.1 257.7L472.1 257.7L473.1 257.7L474.1 257.7L475.1 257.7L476.1 257.7L477.1 257.7L478.1 257.8L479.1 257.8L480.1 257.8L481.1 257.8L482.1 257.8L483.1 257.8L484.1 257.8L485.1 257.8L486.1 257.9L487.1 257.9L488.1 257.9L489.1 257.9L490.1 257.9L491.1 257.9L492.1 257.9L493.1 257.9L494.1 258.0L495.1 258.0L496.1 258.0L497.1 258.0L498.1 258.0L499.1 258.0L500.1 258.0L501.1 258.0L502.1 258.1L503.1 258.1L504.1 258.1L505.1 258.1L506.1 258.1L507.1 258.1L508.1 258.1L509.1 258.1L510.1 258.1L511.1 258.2L512.1 258.2L513.1 258.2L514.1 258.2L515.1 258.2L516.1 258.2L517.1 258.2L518.1 258.2L519.1 258.2L520.1 258.2L521.1 258.3L522.1 258.3L523.0 258.3L524.0 258.3L525.0 258.3L526.0 258.3L527.0 258.3L528.0 258.3L529.0 258.3L530.0 258.4L531.0 258.4L532.0 258.4L533.0 258.4L534.0 258.4L535.0 258.4L536.0 258.4L537.0 258.4L538.0 258.4L539.0 258.4L540.0 258.5L541.0 258.5L542.0 258.5L543.0 258.5L544.0 258.5L545.0 258.5L546.0 258.5L547.0 258.5L548.0 258.6L549.0 258.6L550.0 258.6L551.0 258.6L552.0 258.6L553.0 258.6L554.0 258.6L555.0 258.6L556.0 258.7L557.0 258.7L558.0 258.7L559.0 258.7L560.0 258.7L561.0 258.7L562.0 258.7L563.0 258.7L564.0 258.8L565.0 258.8L566.0 258.8L567.0 258.8L568.0 258.8L569.0 258.8L570.0 258.8L571.0 258.9L572.0 258.9L573.0 258.9L574.0 258.9L575.0 258.9L576.0 258.9L577.0 259.0L578.0 259.0L579.0 259.0L580.0 259.0L581.0 259.0L582.0 259.0L583.0 259.1L584.0 259.1L585.0 259.1L586.0 259.1L587.0 259.1L588.0 259.2L589.0 259.2L590.0 259.2L591.0 259.2L592.0 259.2L593.0 259.3L594.0 259.3L595.0 259.3L596.0 259.3L597.0 259.3L598.0 259.4L599.0 259.4L600.0 259.4L601.0 259.4L602.0 259.5L603.0 259.5L604.0 259.5L605.0 259.5L606.0 259.6L607.0 259.6L608.0 259.6L609.0 259.6L610.0 259.7L611.0 259.7L612.0 259.7L613.0 259.7L614.0 259.8L615.0 259.8L616.0 259.8L617.0 259.8L618.0 259.9L619.0 259.9L620.0 259.9" fill="none" stroke="#3ccf3c" stroke-width="2.0" stroke-linejoin="round" stroke-linecap="round"/>
<path d="M91.3 285.5L92.3 285.5L93.3 285.5L94.3 285.6L95.3 285.6L96.3 285.6L97.3 285.7L98.3 285.7L99.3 285.7L100.3 285.8L101.3 285.8L102.3 285.8L103.3 285.9L104.3 285.9L105.3 285.9L106.3 285.9L107.3 286.0L108.3 286.0L109.3 286.0L110.3 286.1L111.3 286.1L112.3 286.1L113.3 286.2L114.3 286.2L115.3 286.2L116.3 286.3L117.3 286.3L118.3 286.3L119.3 286.3L120.3 286.4L121.2 286.4L122.2 286.4L123.2 286.5L124.2 286.5L125.2 286.5L126.2 286.6L127.2 286.6L128.2 286.6L129.2 286.7L130.2 286.7L131.2 286.7L132.2 286.8L133.2 286.8L134.2 286.8L135.2 286.8L136.2 286.9L137.2 286.9L138.2 287.0L139.2 287.0L140.2 287.0L141.2 287.1L142.2 287.1L143.2 287.1L144.2 287.2L145.2 287.2L146.2 287.2L147.2 287.3L148.2 287.3L149.2 287.4L150.2 287.4L151.2 287.4L152.2 287.5L153.2 287.5L154.2 287.6L155.2 287.6L156.2 287.6L157.2 287.7L158.2 287.7L159.2 287.8L160.2 287.8L161.2 287.9L162.2 287.9L163.2 287.9L164.2 288.0L165.2 288.0L166.2 288.1L167.2 288.1L168.2 288.2L169.2 288.2L170.2 288.3L171.2 288.3L172.2 288.4L173.2 288.4L174.2 288.5L175.1 288.6L176.1 288.6L177.1 288.7L178.1 288.7L179.1 288.8L180.1 288.9L181.1 289.1L182.1 289.3L183.1 289.5L184.0 289.7L185.0 290.0L185.9 290.4L186.8 290.8L187.7 291.3L188.6 291.8L189.4 292.3L190.2 292.9L191.0 293.6L191.7 294.2L192.5 294.9L193.2 295.6L193.8 296.3L194.5 297.1L195.1 297.9L195.7 298.7L196.3 299.5L196.9 300.3L197.4 301.1L198.0 302.0L198.5 302.8L199.0 303.7L199.4 304.6L199.9 305.5L200.3 306.4L200.8 307.3L201.2 308.2L201.6 309.1L202.0 310.0L202.4 310.9L202.9 311.8L203.3 312.7L203.7 313.6L204.2 314.5L204.7 315.4L205.2 316.2L205.7 317.1L206.2 318.0L206.8 318.8L207.3 319.6L207.9 320.4L208.6 321.2L209.2 321.9L209.9 322.7L210.6 323.4L211.3 324.1L212.0 324.8L212.8 325.4L213.6 326.0L214.4 326.6L215.2 327.2L216.0 327.8L216.9 328.3L217.7 328.8L218.6 329.2L219.5 329.7L220.5 330.0L221.4 330.4L222.4 330.6L223.4 330.7L224.4 330.7L225.3 330.6L226.3 330.2L227.1 329.7L227.9 329.0L228.6 328.3L229.2 327.5L229.9 326.7L230.5 325.9L231.1 325.1L231.7 324.3L232.4 323.5L233.0 322.8L233.7 322.0L234.3 321.3L235.1 320.6L235.8 319.9L236.6 319.3L237.4 318.7L238.3 318.2L239.2 317.8L240.1 317.4L241.0 317.1L242.0 316.9L243.0 316.7L244.0 316.5L245.0 316.4L246.0 316.3L247.0 316.3L248.0 316.2L249.0 316.2L250.0 316.2L251.0 316.2L252.0 316.1L253.0 316.1L254.0 316.1L255.0 316.0L256.0 316.0L257.0 315.9L258.0 315.9L259.0 315.8L260.0 315.8L261.0 315.7L262.0 315.7L263.0 315.6L264.0 315.6L265.0 315.5L266.0 315.5L267.0 315.5L268.0 315.5L269.0 315.5L270.0 315.5L271.0 315.5L272.0 315.5L272.9 315.6L273.9 315.6L274.9 315.7L275.9 315.8L276.9 315.9L277.9 316.1L278.9 316.2L279.9 316.4L280.9 316.7L281.8 316.9L282.8 317.2L283.7 317.5L284.7 317.9L285.6 318.3L286.5 318.7L287.4 319.1L288.3 319.6L289.1 320.1L290.0 320.6L290.8 321.2L291.7 321.7L292.5 322.3L293.3 322.9L294.1 323.5L294.9 324.1L295.7 324.7L296.4 325.3L297.2 326.0L298.0 326.6L298.7 327.3L299.4 328.0L300.1 328.7L300.9 329.4L301.6 330.1L302.2 330.8L302.9 331.6L303.6 332.3L304.2 333.1L304.9 333.8L305.5 334.6L306.2 335.4L306.8 336.2L307.4 337.0L308.0 337.8L308.5 338.6L309.1 339.4L309.7 340.3L310.2 341.1L310.7 341.9L311.3 342.8L311.8 343.6L312.3 344.5L312.8 345.4L313.3 346.3L313.7 347.1L314.2 348.0L314.6 348.9L315.1 349.8L315.5 350.7L315.9 351.6L316.3 352.5L316.7 353.4L317.1 354.4L317.5 355.3L317.9 356.2L318.2 357.2L318.6 358.1L318.9 359.0L319.2 360.0L319.6 360.9L319.9 361.9L320.2 362.8L320.5 363.8L320.7 364.8L321.0 365.7L321.3 366.7L321.5 367.6L321.8 368.6L322.0 369.6L322.2 370.6L322.5 371.5L322.7 372.5L322.9 373.5L323.1 374.5L323.3 375.4L323.5 376.4L323.6 377.4L323.8 378.4L324.0 379.4L324.2 380.4L324.3 381.4L324.5 382.3L324.6 383.3L324.8 384.3L324.9 385.3L325.1 386.3L325.2 387.3L325.4 388.3L325.5 389.3L325.6 390.3L325.8 391.2L325.9 392.2L326.0 393.2L326.2 394.2L326.3 395.2L326.4 396.2L326.5 397.2L326.7 398.2L326.8 399.2L326.9 400.2L327.1 401.2L327.2 402.1L327.3 403.1L327.5 404.1L327.6 405.1L327.8 406.1L327.9 407.1L328.0 408.1L328.2 409.1L328.3 410.1L328.5 411.1L328.6 412.0L328.7 413.0L328.9 414.0L329.0 415.0L329.1 416.0L329.2 417.0L329.4 418.0L329.5 419.0L329.6 420.0L329.7 421.0L329.8 422.0L329.9 423.0L330.0 424.0L330.1 425.0L330.2 425.9L330.3 426.9L330.4 427.9L330.4 428.9L330.5 429.9L330.6 430.9L330.6 431.9L330.7 432.9L330.7 433.9L330.8 434.9L330.8 435.9L330.9 436.9L330.9 437.9L331.0 438.9L331.0 439.9L331.0 440.9L331.1 441.9L331.1 442.9L331.1 443.9L331.1 444.9L331.2 445.9L331.2 446.9L331.2 447.9L331.2 448.9L331.2 449.9L331.3 450.9L331.3 451.9L331.3 452.9L331.3 453.9L331.4 454.9L331.4 455.9L331.4 456.9L331.4 457.9L331.5 458.9L331.5 459.9L331.5 460.9L331.6 461.9L331.6 462.9L331.6 463.9L331.7 464.9L331.7 465.9L331.8 466.9L331.8 467.9L331.9 468.9L331.9 469.9L332.0 470.9L332.1 471.9L332.1 472.9L332.2 473.9L332.3 474.9L332.4 475.9L332.5 476.9L332.6 477.9L332.7 478.9L332.8 479.9L332.9 480.9L333.0 481.8L333.2 482.8L333.3 483.8L333.4 484.8L333.6 485.8L333.7 486.8L333.9 487.8L334.1 488.8L334.2 489.7L334.4 490.7L334.6 491.7L334.8 492.7L335.0 493.7L335.2 494.6L335.5 495.6L335.7 496.6L335.9 497.6L336.2 498.5L336.6 499.5L337.0 500.3L337.6 501.2L338.4 501.8L339.3 502.2L340.2 502.5L341.2 502.4L342.2 502.3L343.2 501.9L344.1 501.5L344.9 501.0L345.8 500.5L346.6 499.9L347.3 499.2L348.0 498.5L348.7 497.7L349.3 497.0L349.9 496.2L350.5 495.3L351.0 494.5L351.5 493.6L351.9 492.7L352.4 491.8L352.8 490.9L353.2 490.0L353.6 489.1L353.9 488.1L354.3 487.2L354.6 486.2L354.9 485.3L355.2 484.3L355.4 483.4L355.7 482.4L355.9 481.4L356.1 480.4L356.3 479.5L356.5 478.5L356.6 477.5L356.8 476.5L356.9 475.5L357.1 474.5L357.2 473.5L357.3 472.5L357.4 471.5L357.5 470.6L357.6 469.6L357.6 468.6L357.7 467.6L357.8 466.6L357.8 465.6L357.9 464.6L358.0 463.6L358.0 462.6L358.1 461.6L358.1 460.6L358.2 459.6L358.3 458.6L358.3 457.6L358.4 456.6L358.5 455.6L358.5 454.6L358.6 453.6L358.7 452.6L358.8 451.6L358.9 450.6L359.0 449.6L359.1 448.6L359.2 447.6L359.4 446.6L359.5 445.6L359.6 444.7L359.7 443.7L359.9 442.7L360.0 441.7L360.1 440.7L360.3 439.7L360.4 438.7L360.5 437.7L360.7 436.7L360.8 435.7L360.9 434.7L361.1 433.8L361.2 432.8L361.4 431.8L361.5 430.8L361.6 429.8L361.8 428.8L361.9 427.8L362.0 426.8L362.2 425.8L362.3 424.8L362.4 423.8L362.5 422.9L362.6 421.9L362.7 420.9L362.9 419.9L363.0 418.9L363.0 417.9L363.1 416.9L363.2 415.9L363.3 414.9L363.4 413.9L363.5 412.9L363.5 411.9L363.6 410.9L363.7 409.9L363.7 408.9L363.8 407.9L363.9 406.9L363.9 405.9L364.0 404.9L364.0 403.9L364.1 402.9L364.1 401.9L364.2 400.9L364.2 399.9L364.2 398.9L364.3 397.9L364.3 396.9L364.4 395.9L364.4 394.9L364.4 393.9L364.5 392.9L364.5 391.9L364.6 390.9L364.6 389.9L364.6 388.9L364.7 387.9L364.7 386.9L364.8 385.9L364.8 384.9L364.8 383.9L364.9 382.9L364.9 381.9L365.0 380.9L365.0 380.0L365.1 379.0L365.1 378.0L365.2 377.0L365.3 376.0L365.3 375.0L365.4 374.0L365.5 373.0L365.5 372.0L365.6 371.0L365.7 370.0L365.8 369.0L365.8 368.0L365.9 367.0L366.0 366.0L366.1 365.0L366.2 364.0L366.3 363.0L366.5 362.0L366.6 361.0L366.7 360.0L366.8 359.0L367.0 358.1L367.1 357.1L367.3 356.1L367.4 355.1L367.6 354.1L367.7 353.1L367.9 352.1L368.1 351.1L368.3 350.2L368.5 349.2L368.7 348.2L368.9 347.2L369.1 346.2L369.3 345.3L369.6 344.3L369.8 343.3L370.1 342.4L370.3 341.4L370.6 340.4L370.8 339.5L371.1 338.5L371.4 337.5L371.6 336.6L371.9 335.6L372.2 334.7L372.5 333.7L372.8 332.7L373.0 331.8L373.3 330.8L373.6 329.9L373.9 328.9L374.1 327.9L374.4 327.0L374.7 326.0L374.9 325.0L375.2 324.1L375.5 323.1L375.7 322.1L376.0 321.2L376.2 320.2L376.4 319.2L376.7 318.3L376.9 317.3L377.2 316.3L377.4 315.4L377.7 314.4L378.0 313.4L378.2 312.5L378.5 311.5L378.8 310.5L379.1 309.6L379.4 308.6L379.7 307.7L380.0 306.7L380.3 305.8L380.6 304.9L381.0 303.9L381.4 303.0L381.7 302.1L382.1 301.1L382.6 300.2L383.0 299.3L383.4 298.4L383.9 297.6L384.4 296.7L385.0 295.9L385.6 295.1L386.3 294.4L387.0 293.7L387.8 293.1L388.6 292.5L389.5 292.0L390.3 291.5L391.2 291.0L392.1 290.5L393.0 290.1L393.9 289.7L394.8 289.3L395.8 288.9L396.7 288.6L397.7 288.2L398.6 287.9L399.6 287.6L400.5 287.3L401.5 287.0L402.4 286.8L403.4 286.5L404.4 286.3L405.4 286.1L406.3 285.9L407.3 285.7L408.3 285.5L409.3 285.3L410.3 285.2L411.3 285.0L412.2 284.9L413.2 284.7L414.2 284.6L415.2 284.5L416.2 284.4L417.2 284.3L418.2 284.2L419.2 284.1L420.2 284.0L421.2 283.9L422.2 283.8L423.2 283.8L424.2 283.7L425.2 283.6L426.2 283.6L427.2 283.5L428.2 283.5L429.2 283.5L430.2 283.4L431.2 283.4L432.2 283.4L433.2 283.3L434.2 283.3L435.2 283.3L436.2 283.3L437.2 283.3L438.2 283.3L439.2 283.3L440.2 283.3L441.2 283.3L442.2 283.3L443.2 283.3L444.2 283.3L445.2 283.3L446.2 283.3L447.2 283.4L448.2 283.4L449.3 283.4L450.3 283.4L451.3 283.4L452.3 283.4L453.3 283.4L454.3 283.4L455.3 283.4L456.3 283.4L457.3 283.4L458.3 283.3L459.3 283.3L460.3 283.3L461.3 283.3L462.3 283.3L463.3 283.3L464.3 283.3L465.3 283.3L466.3 283.3L467.3 283.3L468.3 283.3L469.3 283.3L470.3 283.2L471.3 283.2L472.3 283.2L473.3 283.2L474.3 283.2L475.3 283.2L476.3 283.2L477.3 283.2L478.3 283.2L479.3 283.2L480.3 283.1L481.3 283.1L482.2 283.1L483.2 283.1L484.2 283.1L485.2 283.1L486.2 283.1L487.2 283.0L488.2 283.0L489.2 283.0L490.2 283.0L491.2 283.0L492.2 283.0L493.2 283.0L494.2 282.9L495.2 282.9L496.2 282.9L497.2 282.9L498.2 282.9L499.2 282.9L500.2 282.9L501.2 282.8L502.2 282.8L503.2 282.8L504.2 282.8L505.2 282.8L506.2 282.8L507.2 282.7L508.2 282.7L509.2 282.7L510.2 282.7L511.2 282.7L512.2 282.7L513.2 282.6L514.2 282.6L515.2 282.6L516.2 282.6L517.2 282.6L518.2 282.6L519.2 282.5L520.2 282.5L521.2 282.5L522.2 282.5L523.2 282.5L524.2 282.4L525.2 282.4L526.2 282.4L527.2 282.4L528.2 282.4L529.2 282.4L530.2 282.3L531.2 282.3L532.2 282.3L533.2 282.3L534.2 282.3L535.2 282.3L536.2 282.2L537.2 282.2L538.2 282.2L539.2 282.2L540.2 282.2L541.2 282.1L542.2 282.1L543.2 282.1L544.2 282.1L545.2 282.1L546.2 282.1L547.2 282.0L548.2 282.0L549.2 282.0L550.2 282.0L551.2 282.0L552.2 281.9L553.2 281.9L554.2 281.9L555.2 281.9L556.2 281.9L557.2 281.9L558.2 281.8L559.2 281.8L560.2 281.8L561.2 281.8L562.2 281.8L563.2 281.8L564.2 281.7L565.2 281.7L566.2 281.7L567.2 281.7L568.2 281.7L569.2 281.7L570.2 281.6L571.2 281.6L572.2 281.6L573.2 281.6L574.2 281.6L575.2 281.6L576.2 281.6L577.2 281.5L578.1 281.5L579.1 281.5L580.1 281.5L581.1 281.5L582.1 281.5L583.1 281.5L584.1 281.4L585.1 281.4L586.1 281.4L587.1 281.4L588.1 281.4L589.1 281.4L590.1 281.4L591.1 281.4L592.1 281.4L593.1 281.3L594.1 281.3L595.1 281.3L596.1 281.3L597.1 281.3L598.1 281.3L599.1 281.3L600.1 281.3L601.1 281.3L602.1 281.3L603.1 281.2L604.1 281.2L605.1 281.2L606.1 281.2L607.1 281.2L608.1 281.2L609.1 281.2L610.1 281.2L611.1 281.2L612.1 281.2L613.1 281.2L614.1 281.2L615.1 281.2L616.1 281.2L617.1 281.2L618.1 281.2L619.1 281.1L620.1 281.1" fill="none" stroke="#3ccf3c" stroke-width="2.0" stroke-linejoin="round" stroke-linecap="round"/>
<path d="M89.6 250.8L90.6 250.7L91.6 250.6L92.6 250.5L93.6 250.4L94.6 250.3L95.6 250.3L96.6 250.2L97.6 250.1L98.6 250.1L99.6 250.1L100.6 250.0L101.6 250.0L102.5 249.9L103.5 249.9L104.5 249.9L105.5 249.8L106.5 249.8L107.5 249.8L108.5 249.8L109.5 249.7L110.5 249.7L111.5 249.7L112.5 249.6L113.5 249.6L114.5 249.5L115.5 249.5L116.5 249.4L117.5 249.4L118.5 249.3L119.5 249.3L120.5 249.2L121.5 249.1L122.5 249.0L123.5 248.9L124.5 248.8L125.5 248.7L126.5 248.6L127.5 248.4L128.5 248.3L129.5 248.1L130.4 247.9L131.4 247.8L132.4 247.5L133.4 247.3L134.3 247.1L135.3 246.8L136.3 246.6L137.2 246.3L138.2 246.0L139.1 245.7L140.1 245.3L141.0 245.0L141.9 244.6L142.8 244.2L143.7 243.7L144.6 243.3L145.5 242.8L146.4 242.3L147.2 241.8L148.1 241.3L148.9 240.7L149.7 240.1L150.5 239.5L151.3 238.9L152.0 238.2L152.8 237.6L153.5 236.9L154.2 236.1L154.9 235.4L155.5 234.7L156.2 233.9L156.8 233.1L157.4 232.3L157.9 231.5L158.5 230.6L159.0 229.8L159.5 228.9L159.9 228.0L160.4 227.1L160.7 226.2L161.1 225.2L161.4 224.3L161.8 223.4L162.0 222.4L162.3 221.4L162.5 220.4L162.7 219.5L162.8 218.5L163.0 217.5L163.2 216.5L163.4 215.5L163.8 214.6L164.4 213.8L165.3 213.4L166.3 213.3L167.1 213.8L167.8 214.5L168.4 215.3L168.9 216.2L169.3 217.1L169.8 218.0L170.2 218.9L170.6 219.8L170.9 220.7L171.3 221.7L171.7 222.6L172.0 223.5L172.4 224.5L172.7 225.4L173.0 226.4L173.4 227.3L173.7 228.3L174.0 229.2L174.4 230.1L174.7 231.1L175.0 232.0L175.4 233.0L175.8 233.9L176.1 234.8L176.5 235.7L176.9 236.7L177.3 237.6L177.8 238.4L178.3 239.3L178.8 240.2L179.4 241.0L180.0 241.8L180.7 242.5L181.5 243.1L182.3 243.7L183.1 244.2L184.0 244.7L185.0 245.0L185.9 245.3L186.9 245.4L187.9 245.5L188.9 245.4L189.9 245.2L190.9 244.9L191.8 244.6L192.7 244.2L193.6 243.8L194.6 243.4L195.5 243.0L196.4 242.6L197.3 242.2L198.2 241.8L199.1 241.4L200.1 241.0L201.0 240.6L201.9 240.2L202.8 239.8L203.7 239.4L204.6 239.0L205.5 238.6L206.4 238.1L207.3 237.7L208.2 237.2L209.1 236.7L210.0 236.2L210.8 235.7L211.7 235.2L212.5 234.6L213.3 234.1L214.1 233.5L214.9 232.9L215.7 232.3L216.5 231.6L217.2 231.0L218.0 230.3L218.7 229.6L219.4 228.9L220.1 228.2L220.8 227.5L221.5 226.8L222.2 226.0L222.8 225.3L223.5 224.5L224.1 223.7L224.7 222.9L225.3 222.1L225.9 221.3L226.5 220.5L227.1 219.7L227.7 218.9L228.3 218.1L228.8 217.3L229.4 216.4L229.9 215.6L230.5 214.8L231.0 213.9L231.6 213.1L232.1 212.3L232.6 211.4L233.2 210.6L233.7 209.7L234.2 208.9L234.7 208.0L235.2 207.1L235.7 206.2L236.2 205.4L236.6 204.5L237.1 203.6L237.5 202.7L238.0 201.8L238.4 200.9L238.8 200.0L239.2 199.1L239.6 198.1L239.9 197.2L240.3 196.3L240.6 195.3L241.0 194.4L241.3 193.4L241.6 192.5L241.8 191.5L242.1 190.6L242.4 189.6L242.6 188.6L242.9 187.7L243.1 186.7L243.3 185.7L243.5 184.7L243.7 183.7L243.9 182.8L244.1 181.8L244.2 180.8L244.4 179.8L244.6 178.8L244.7 177.8L244.8 176.8L245.0 175.9L245.1 174.9L245.2 173.9L245.3 172.9L245.4 171.9L245.5 170.9L245.6 169.9L245.7 168.9L245.8 167.9L245.9 166.9L246.0 165.9L246.1 164.9L246.1 163.9L246.2 162.9L246.3 161.9L246.3 160.9L246.4 159.9L246.5 158.9L246.5 157.9L246.6 156.9L246.7 155.9L246.7 154.9L246.8 153.9L246.9 152.9L246.9 151.9L247.0 150.9L247.0 149.9L247.1 149.0L247.2 148.0L247.2 147.0L247.3 146.0L247.3 145.0L247.4 144.0L247.4 143.0L247.5 142.0L247.6 141.0L247.6 140.0L247.7 139.0L247.7 138.0L247.8 137.0L247.8 136.0L247.8 135.0L247.9 134.0L247.9 133.0L248.0 132.0L248.0 131.0L248.1 130.0L248.1 129.0L248.2 128.0L248.2 127.0L248.2 126.0L248.3 125.0L248.3 124.0L248.4 123.0L248.4 122.0L248.4 121.0L248.5 120.0L248.5 119.0L248.5 118.0L248.6 117.0L248.6 116.0L248.6 115.0L248.6 114.0L248.7 113.0L248.7 112.0L248.7 111.0L248.7 110.0L248.8 109.0L248.8 108.0L248.8 107.0L248.8 106.0L248.9 105.0L248.9 104.0L248.9 103.0L248.9 102.0L248.9 101.0L248.9 100.0L249.0 99.0L249.0 98.0L249.0 97.0L249.0 96.0L249.0 95.0L249.0 94.0L249.0 93.0L249.0 92.0L249.1 91.0L249.1 90.0L249.2 89.0L249.4 88.0L249.6 87.1L250.0 86.1L250.4 85.2L251.0 84.4L251.7 83.7L252.5 83.2L253.5 83.1L254.3 83.6L255.0 84.4L255.4 85.2L255.9 86.1L256.3 87.0L256.7 88.0L257.1 88.9L257.5 89.8L257.9 90.7L258.2 91.6L258.6 92.6L259.0 93.5L259.4 94.4L259.7 95.4L260.1 96.3L260.4 97.2L260.8 98.2L261.1 99.1L261.5 100.0L261.8 101.0L262.2 101.9L262.5 102.9L262.9 103.8L263.2 104.7L263.6 105.7L263.9 106.6L264.3 107.5L264.7 108.5L265.0 109.4L265.4 110.3L265.8 111.2L266.1 112.2L266.5 113.1L266.9 114.0L267.3 115.0L267.6 115.9L268.0 116.8L268.3 117.8L268.7 118.7L269.0 119.6L269.4 120.6L269.7 121.5L270.0 122.4L270.4 123.4L270.7 124.3L271.0 125.3L271.3 126.3L271.5 127.2L271.8 128.2L272.1 129.1L272.3 130.1L272.6 131.1L272.8 132.0L273.1 133.0L273.3 134.0L273.5 135.0L273.7 135.9L273.9 136.9L274.2 137.9L274.3 138.9L274.5 139.9L274.7 140.8L274.9 141.8L275.1 142.8L275.3 143.8L275.4 144.8L275.6 145.8L275.8 146.7L275.9 147.7L276.1 148.7L276.2 149.7L276.4 150.7L276.5 151.7L276.7 152.7L276.8 153.7L277.0 154.7L277.1 155.6L277.3 156.6L277.4 157.6L277.6 158.6L277.7 159.6L277.8 160.6L278.0 161.6L278.1 162.6L278.3 163.6L278.4 164.5L278.6 165.5L278.7 166.5L278.9 167.5L279.0 168.5L279.2 169.5L279.4 170.5L279.5 171.5L279.7 172.4L279.9 173.4L280.0 174.4L280.2 175.4L280.4 176.4L280.6 177.4L280.7 178.3L280.9 179.3L281.1 180.3L281.3 181.3L281.5 182.3L281.7 183.3L281.9 184.2L282.1 185.2L282.3 186.2L282.5 187.2L282.7 188.1L282.9 189.1L283.1 190.1L283.3 191.1L283.5 192.1L283.8 193.0L284.0 194.0L284.2 195.0L284.4 196.0L284.6 196.9L284.9 197.9L285.1 198.9L285.3 199.8L285.6 200.8L285.8 201.8L286.1 202.8L286.3 203.7L286.6 204.7L286.8 205.7L287.1 206.6L287.3 207.6L287.6 208.6L287.8 209.5L288.1 210.5L288.4 211.4L288.7 212.4L289.0 213.4L289.2 214.3L289.6 215.3L289.9 216.2L290.2 217.2L290.5 218.1L290.9 219.0L291.2 220.0L291.6 220.9L292.0 221.8L292.4 222.7L292.8 223.6L293.3 224.5L293.8 225.4L294.2 226.3L294.7 227.2L295.2 228.0L295.8 228.9L296.3 229.7L296.9 230.5L297.5 231.3L298.1 232.1L298.8 232.9L299.4 233.6L300.1 234.3L300.8 235.1L301.5 235.7L302.3 236.4L303.0 237.1L303.8 237.7L304.6 238.3L305.4 238.9L306.3 239.4L307.1 239.9L308.0 240.4L308.9 240.9L309.8 241.3L310.7 241.7L311.6 242.1L312.5 242.5L313.5 242.9L314.4 243.2L315.4 243.5L316.3 243.8L317.3 244.1L318.2 244.4L319.2 244.7L320.1 245.0L321.1 245.3L322.1 245.5L323.0 245.8L324.0 246.1L325.0 246.3L325.9 246.6L326.9 246.9L327.9 247.1L328.8 247.4L329.8 247.6L330.8 247.9L331.7 248.1L332.7 248.4L333.7 248.6L334.6 248.8L335.6 249.1L336.6 249.3L337.6 249.5L338.5 249.7L339.5 249.9L340.5 250.2L341.5 250.4L342.4 250.5L343.4 250.7L344.4 250.9L345.4 251.1L346.4 251.3L347.4 251.4L348.3 251.6L349.3 251.8L350.3 251.9L351.3 252.1L352.3 252.2L353.3 252.4L354.3 252.5L355.3 252.6L356.3 252.8L357.3 252.9L358.2 253.0L359.2 253.1L360.2 253.3L361.2 253.4L362.2 253.5L363.2 253.6L364.2 253.7L365.2 253.8L366.2 253.9L367.2 254.0L368.2 254.0L369.2 254.1L370.2 254.2L371.2 254.3L372.2 254.4L373.2 254.5L374.2 254.5L375.2 254.6L376.2 254.7L377.2 254.7L378.2 254.8L379.2 254.9L380.2 254.9L381.1 255.0L382.1 255.0L383.1 255.1L384.1 255.1L385.1 255.2L386.1 255.2L387.1 255.3L388.1 255.3L389.1 255.4L390.1 255.4L391.1 255.5L392.1 255.5L393.1 255.6L394.1 255.6L395.1 255.6L396.1 255.7L397.1 255.7L398.1 255.8L399.1 255.8L400.1 255.8L401.1 255.9L402.1 255.9L403.1 256.0L404.1 256.0L405.1 256.0L406.1 256.1L407.1 256.1L408.1 256.1L409.1 256.2L410.1 256.2L411.1 256.2L412.1 256.3L413.1 256.3L414.1 256.3L415.1 256.4L416.1 256.4L417.1 256.4L418.1 256.5L419.1 256.5L420.1 256.5L421.1 256.6L422.1 256.6L423.1 256.6L424.1 256.6L425.1 256.7L426.1 256.7L427.1 256.7L428.1 256.8L429.1 256.8L430.1 256.8L431.1 256.8L432.1 256.9L433.1 256.9L434.1 256.9L435.1 256.9L436.1 257.0L437.1 257.0L438.1 257.0L439.1 257.0L440.1 257.1L441.1 257.1L442.1 257.1L443.1 257.1L444.1 257.2L445.1 257.2L446.1 257.2L447.1 257.2L448.1 257.2L449.1 257.3L450.1 257.3L451.1 257.3L452.1 257.3L453.1 257.3L454.1 257.4L455.1 257.4L456.1 257.4L457.1 257.4L458.1 257.4L459.1 257.5L460.1 257.5L461.1 257.5L462.1 257.5L463.1 257.5L464.1 257.5L465.1 257.6L466.1 257.6L467.1 257.6L468.1 257.6L469.1 257.6L470.1 257.6L471.1 257.7L472.1 257.7L473.1 257.7L474.1 257.7L475.1 257.7L476.1 257.7L477.1 257.7L478.1 257.8L479.1 257.8L480.1 257.8L481.1 257.8L482.1 257.8L483.1 257.8L484.1 257.8L485.1 257.8L486.1 257.9L487.1 257.9L488.1 257.9L489.1 257.9L490.1 257.9L491.1 257.9L492.1 257.9L493.1 257.9L494.1 258.0L495.1 258.0L496.1 258.0L497.1 258.0L498.1 258.0L499.1 258.0L500.1 258.0L501.1 258.0L502.1 258.1L503.1 258.1L504.1 258.1L505.1 258.1L506.1 258.1L507.1 258.1L508.1 258.1L509.1 258.1L510.1 258.1L511.1 258.2L512.1 258.2L513.1 258.2L514.1 258.2L515.1 258.2L516.1 258.2L517.1 258.2L518.1 258.2L519.1 258.2L520.1 258.2L521.1 258.3L522.1 258.3L523.0 258.3L524.0 258.3L525.0 258.3L526.0 258.3L527.0 258.3L528.0 258.3L529.0 258.3L530.0 258.4L531.0 258.4L532.0 258.4L533.0 258.4L534.0 258.4L535.0 258.4L536.0 258.4L537.0 258.4L538.0 258.4L539.0 258.4L540.0 258.5L541.0 258.5L542.0 258.5L543.0 258.5L544.0 258.5L545.0 258.5L546.0 258.5L547.0 258.5L548.0 258.6L549.0 258.6L550.0 258.6L551.0 258.6L552.0 258.6L553.0 258.6L554.0 258.6L555.0 258.6L556.0 258.7L557.0 258.7L558.0 258.7L559.0 258.7L560.0 258.7L561.0 258.7L562.0 258.7L563.0 258.7L564.0 258.8L565.0 258.8L566.0 258.8L567.0 258.8L568.0 258.8L569.0 258.8L570.0 258.8L571.0 258.9L572.0 258.9L573.0 258.9L574.0 258.9L575.0 258.9L576.0 258.9L577.0 259.0L578.0 259.0L579.0 259.0L580.0 259.0L581.0 259.0L582.0 259.0L583.0 259.1L584.0 259.1L585.0 259.1L586.0 259.1L587.0 259.1L588.0 259.2L589.0 259.2L590.0 259.2L591.0 259.2L592.0 259.2L593.0 259.3L594.0 259.3L595.0 259.3L596.0 259.3L597.0 259.3L598.0 259.4L599.0 259.4L600.0 259.4L601.0 259.4L602.0 259.5L603.0 259.5L604.0 259.5L605.0 259.5L606.0 259.6L607.0 259.6L608.0 259.6L609.0 259.6L610.0 259.7L611.0 259.7L612.0 259.7L613.0 259.7L614.0 259.8L615.0 259.8L616.0 259.8L617.0 259.8L618.0 259.9L619.0 259.9L620.0 259.9" fill="none" stroke="#16168f" stroke-width="2.0" stroke-linejoin="round" stroke-linecap="round"/>
<path d="M91.3 285.5L92.3 285.5L93.3 285.5L94.3 285.6L95.3 285.6L96.3 285.6L97.3 285.7L98.3 285.7L99.3 285.7L100.3 285.8L101.3 285.8L102.3 285.8L103.3 285.9L104.3 285.9L105.3 285.9L106.3 285.9L107.3 286.0L108.3 286.0L109.3 286.0L110.3 286.1L111.3 286.1L112.3 286.1L113.3 286.2L114.3 286.2L115.3 286.2L116.3 286.3L117.3 286.3L118.3 286.3L119.3 286.3L120.3 286.4L121.2 286.4L122.2 286.4L123.2 286.5L124.2 286.5L125.2 286.5L126.2 286.6L127.2 286.6L128.2 286.6L129.2 286.7L130.2 286.7L131.2 286.7L132.2 286.8L133.2 286.8L134.2 286.8L135.2 286.8L136.2 286.9L137.2 286.9L138.2 287.0L139.2 287.0L140.2 287.0L141.2 287.1L142.2 287.1L143.2 287.1L144.2 287.2L145.2 287.2L146.2 287.2L147.2 287.3L148.2 287.3L149.2 287.4L150.2 287.4L151.2 287.4L152.2 287.5L153.2 287.5L154.2 287.6L155.2 287.6L156.2 287.6L157.2 287.7L158.2 287.7L159.2 287.8L160.2 287.8L161.2 287.9L162.2 287.9L163.2 287.9L164.2 288.0L165.2 288.0L166.2 288.1L167.2 288.1L168.2 288.2L169.2 288.2L170.2 288.3L171.2 288.3L172.2 288.4L173.2 288.4L174.2 288.5L175.1 288.6L176.1 288.6L177.1 288.7L178.1 288.7L179.1 288.8L180.1 288.9L181.1 289.1L182.1 289.3L183.1 289.5L184.0 289.7L185.0 290.0L185.9 290.4L186.8 290.8L187.7 291.3L188.6 291.8L189.4 292.3L190.2 292.9L191.0 293.6L191.7 294.2L192.5 294.9L193.2 295.6L193.8 296.3L194.5 297.1L195.1 297.9L195.7 298.7L196.3 299.5L196.9 300.3L197.4 301.1L198.0 302.0L198.5 302.8L199.0 303.7L199.4 304.6L199.9 305.5L200.3 306.4L200.8 307.3L201.2 308.2L201.6 309.1L202.0 310.0L202.4 310.9L202.9 311.8L203.3 312.7L203.7 313.6L204.2 314.5L204.7 315.4L205.2 316.2L205.7 317.1L206.2 318.0L206.8 318.8L207.3 319.6L207.9 320.4L208.6 321.2L209.2 321.9L209.9 322.7L210.6 323.4L211.3 324.1L212.0 324.8L212.8 325.4L213.6 326.0L214.4 326.6L215.2 327.2L216.0 327.8L216.9 328.3L217.7 328.8L218.6 329.2L219.5 329.7L220.5 330.0L221.4 330.4L222.4 330.6L223.4 330.7L224.4 330.7L225.3 330.6L226.3 330.2L227.1 329.7L227.9 329.1L228.6 328.4L229.3 327.6L229.9 326.8L230.4 326.0L231.0 325.1L231.5 324.3L232.0 323.4L232.5 322.6L233.0 321.7L233.5 320.8L234.0 320.0L234.6 319.2L235.1 318.3L235.7 317.5L236.4 316.8L237.0 316.0L237.7 315.3L238.4 314.6L239.2 313.9L240.0 313.3L240.8 312.8L241.7 312.3L242.6 311.8L243.5 311.4L244.4 311.1L245.4 310.8L246.4 310.6L247.3 310.3L248.3 310.2L249.3 310.0L250.3 309.9L251.3 309.8L252.3 309.7L253.3 309.6L254.3 309.5L255.3 309.5L256.3 309.4L257.3 309.4L258.3 309.3L259.3 309.2L260.3 309.2L261.3 309.1L262.3 309.0L263.3 308.9L264.2 308.9L265.2 308.8L266.2 308.7L267.2 308.6L268.2 308.5L269.2 308.4L270.2 308.3L271.2 308.2L272.2 308.1L273.2 308.0L274.2 307.8L275.2 307.7L276.2 307.6L277.2 307.5L278.2 307.4L279.2 307.3L280.1 307.2L281.1 307.1L282.1 307.0L283.1 306.9L284.1 306.8L285.1 306.7L286.1 306.7L287.1 306.6L288.1 306.6L289.1 306.6L290.1 306.5L291.1 306.6L292.1 306.6L293.1 306.6L294.1 306.7L295.1 306.8L296.1 306.9L297.1 307.1L298.1 307.2L299.0 307.5L300.0 307.7L301.0 308.0L301.9 308.3L302.9 308.6L303.8 309.0L304.7 309.4L305.6 309.8L306.5 310.3L307.4 310.7L308.2 311.3L309.1 311.8L309.9 312.4L310.7 313.0L311.5 313.6L312.2 314.2L313.0 314.9L313.7 315.6L314.3 316.4L315.0 317.1L315.6 317.9L316.2 318.7L316.7 319.5L317.3 320.4L317.7 321.3L318.2 322.2L318.6 323.1L319.0 324.0L319.4 324.9L319.7 325.9L320.0 326.8L320.3 327.8L320.6 328.7L320.9 329.7L321.1 330.6L321.4 331.6L321.7 332.6L321.9 333.5L322.1 334.5L322.4 335.5L322.6 336.4L322.9 337.4L323.2 338.4L323.4 339.3L323.7 340.3L323.9 341.3L324.2 342.2L324.4 343.2L324.7 344.2L324.9 345.1L325.2 346.1L325.4 347.1L325.7 348.0L325.9 349.0L326.2 350.0L326.4 350.9L326.7 351.9L326.9 352.9L327.1 353.9L327.4 354.8L327.6 355.8L327.8 356.8L328.0 357.8L328.2 358.7L328.5 359.7L328.7 360.7L328.9 361.7L329.1 362.6L329.3 363.6L329.5 364.6L329.7 365.6L329.9 366.5L330.1 367.5L330.3 368.5L330.5 369.5L330.7 370.5L330.9 371.4L331.1 372.4L331.3 373.4L331.5 374.4L331.6 375.4L331.8 376.3L332.0 377.3L332.2 378.3L332.4 379.3L332.6 380.3L332.8 381.3L333.0 382.2L333.2 383.2L333.4 384.2L333.5 385.2L333.7 386.2L333.9 387.1L334.1 388.1L334.3 389.1L334.5 390.1L334.7 391.1L334.9 392.0L335.1 393.0L335.3 394.0L335.5 395.0L335.7 395.9L335.9 396.9L336.1 397.9L336.4 398.9L336.6 399.8L336.8 400.8L337.0 401.8L337.3 402.8L337.5 403.7L337.7 404.7L338.0 405.7L338.2 406.6L338.5 407.6L338.7 408.6L339.0 409.5L339.3 410.5L339.5 411.5L339.8 412.4L340.1 413.4L340.4 414.3L340.7 415.3L341.0 416.2L341.3 417.2L341.6 418.1L342.0 419.1L342.3 420.0L342.7 421.0L343.0 421.9L343.4 422.8L343.7 423.7L344.1 424.7L344.5 425.6L344.9 426.5L345.3 427.4L345.7 428.3L346.1 429.2L346.6 430.1L347.0 431.0L347.4 431.9L347.9 432.8L348.4 433.7L348.8 434.6L349.3 435.5L349.8 436.3L350.3 437.2L350.8 438.0L351.4 438.9L351.9 439.7L352.5 440.6L353.0 441.4L353.6 442.2L354.2 443.0L354.9 443.8L355.5 444.5L356.2 445.2L356.9 446.0L357.6 446.6L358.4 447.3L359.2 447.9L360.0 448.4L360.9 448.9L361.9 449.1L362.9 449.3L363.9 449.3L364.9 449.3L365.8 449.1L366.8 448.8L367.7 448.5L368.6 448.1L369.5 447.6L370.3 447.0L371.1 446.4L371.9 445.7L372.6 445.0L373.2 444.3L373.9 443.5L374.5 442.7L375.0 441.9L375.6 441.0L376.1 440.2L376.6 439.3L377.0 438.4L377.5 437.5L377.9 436.6L378.3 435.7L378.7 434.8L379.1 433.9L379.4 432.9L379.8 432.0L380.2 431.1L380.5 430.1L380.9 429.2L381.3 428.3L381.7 427.4L382.1 426.5L382.5 425.6L383.0 424.7L383.5 423.8L384.0 422.9L384.5 422.1L385.0 421.2L385.5 420.4L386.0 419.5L386.5 418.7L387.1 417.8L387.6 417.0L388.1 416.1L388.6 415.2L389.1 414.4L389.6 413.5L390.0 412.6L390.5 411.7L390.9 410.8L391.3 409.9L391.7 409.0L392.0 408.0L392.4 407.1L392.6 406.1L392.9 405.2L393.1 404.2L393.3 403.2L393.4 402.2L393.6 401.2L393.7 400.2L393.8 399.2L393.9 398.3L393.9 397.3L394.0 396.3L394.0 395.3L394.0 394.3L394.0 393.3L394.0 392.3L394.0 391.3L394.0 390.3L394.0 389.3L394.0 388.3L394.0 387.3L394.0 386.3L394.0 385.3L394.0 384.3L394.0 383.3L394.0 382.3L394.0 381.3L394.0 380.3L394.1 379.3L394.1 378.3L394.1 377.3L394.1 376.3L394.1 375.3L394.2 374.3L394.2 373.3L394.2 372.3L394.2 371.3L394.3 370.3L394.3 369.3L394.3 368.3L394.4 367.3L394.4 366.3L394.4 365.3L394.5 364.3L394.5 363.3L394.6 362.3L394.6 361.3L394.6 360.3L394.7 359.3L394.7 358.3L394.8 357.3L394.8 356.3L394.8 355.3L394.9 354.3L394.9 353.3L395.0 352.3L395.0 351.3L395.0 350.3L395.1 349.3L395.1 348.3L395.2 347.3L395.2 346.3L395.2 345.3L395.3 344.3L395.3 343.3L395.3 342.3L395.4 341.3L395.4 340.3L395.5 339.3L395.5 338.3L395.6 337.3L395.7 336.4L395.7 335.4L395.8 334.4L396.0 333.4L396.1 332.4L396.2 331.4L396.4 330.4L396.5 329.4L396.7 328.4L396.9 327.5L397.2 326.5L397.4 325.5L397.7 324.6L398.0 323.6L398.4 322.7L398.8 321.8L399.1 320.8L399.6 319.9L400.0 319.0L400.5 318.2L401.0 317.3L401.5 316.4L402.1 315.6L402.7 314.8L403.3 314.0L403.9 313.3L404.6 312.5L405.3 311.8L406.0 311.1L406.8 310.5L407.6 309.8L408.4 309.2L409.2 308.7L410.0 308.2L410.9 307.6L411.8 307.1L412.6 306.7L413.5 306.2L414.4 305.7L415.3 305.3L416.2 304.8L417.1 304.4L418.0 303.9L418.9 303.5L419.8 303.1L420.7 302.6L421.6 302.2L422.5 301.8L423.4 301.4L424.3 301.0L425.2 300.6L426.2 300.2L427.1 299.9L428.0 299.5L428.9 299.1L429.9 298.8L430.8 298.4L431.7 298.1L432.7 297.7L433.6 297.4L434.6 297.1L435.5 296.7L436.5 296.4L437.4 296.1L438.4 295.8L439.3 295.5L440.3 295.2L441.2 294.9L442.2 294.7L443.2 294.4L444.1 294.1L445.1 293.9L446.0 293.6L447.0 293.4L448.0 293.1L449.0 292.9L449.9 292.6L450.9 292.4L451.9 292.2L452.8 292.0L453.8 291.8L454.8 291.6L455.8 291.4L456.8 291.2L457.7 291.0L458.7 290.8L459.7 290.6L460.7 290.4L461.7 290.3L462.7 290.1L463.6 289.9L464.6 289.8L465.6 289.6L466.6 289.5L467.6 289.3L468.6 289.2L469.6 289.0L470.6 288.9L471.5 288.8L472.5 288.6L473.5 288.5L474.5 288.4L475.5 288.3L476.5 288.1L477.5 288.0L478.5 287.9L479.5 287.8L480.5 287.7L481.5 287.6L482.5 287.5L483.5 287.4L484.4 287.3L485.4 287.2L486.4 287.1L487.4 287.0L488.4 287.0L489.4 286.9L490.4 286.8L491.4 286.7L492.4 286.6L493.4 286.6L494.4 286.5L495.4 286.4L496.4 286.3L497.4 286.3L498.4 286.2L499.4 286.1L500.4 286.1L501.4 286.0L502.4 285.9L503.4 285.9L504.4 285.8L505.4 285.7L506.4 285.7L507.4 285.6L508.4 285.6L509.4 285.5L510.4 285.4L511.4 285.4L512.3 285.3L513.3 285.3L514.3 285.2L515.3 285.1L516.3 285.1L517.3 285.0L518.3 285.0L519.3 284.9L520.3 284.8L521.3 284.8L522.3 284.7L523.3 284.6L524.3 284.6L525.3 284.5L526.3 284.5L527.3 284.4L528.3 284.3L529.3 284.3L530.3 284.2L531.3 284.1L532.3 284.1L533.3 284.0L534.3 283.9L535.3 283.9L536.3 283.8L537.3 283.8L538.3 283.7L539.3 283.6L540.3 283.6L541.3 283.5L542.3 283.4L543.3 283.4L544.3 283.3L545.2 283.3L546.2 283.2L547.2 283.1L548.2 283.1L549.2 283.0L550.2 282.9L551.2 282.9L552.2 282.8L553.2 282.8L554.2 282.7L555.2 282.7L556.2 282.6L557.2 282.5L558.2 282.5L559.2 282.4L560.2 282.4L561.2 282.3L562.2 282.3L563.2 282.2L564.2 282.2L565.2 282.1L566.2 282.1L567.2 282.0L568.2 282.0L569.2 281.9L570.2 281.9L571.2 281.8L572.2 281.8L573.2 281.7L574.2 281.7L575.2 281.6L576.2 281.6L577.2 281.6L578.2 281.5L579.2 281.5L580.2 281.5L581.2 281.4L582.2 281.4L583.2 281.4L584.2 281.3L585.2 281.3L586.2 281.3L587.2 281.2L588.2 281.2L589.2 281.2L590.2 281.2L591.2 281.1L592.1 281.1L593.1 281.1L594.1 281.1L595.1 281.1L596.1 281.0L597.1 281.0L598.1 281.0L599.1 281.0L600.1 281.0L601.1 281.0L602.1 281.0L603.1 281.0L604.1 281.0L605.1 281.0L606.1 281.0L607.1 281.0L608.1 281.0L609.1 281.0L610.1 281.0L611.1 281.0L612.1 281.0L613.1 281.0L614.1 281.0L615.1 281.1L616.1 281.1L617.1 281.1L618.1 281.1L619.1 281.2L620.1 281.2" fill="none" stroke="#16168f" stroke-width="2.0" stroke-linejoin="round" stroke-linecap="round"/>
<path d="M65.70 537.90 V522.40 M65.70 3.00 V18.50 M168.55 537.90 V522.40 M168.55 3.00 V18.50 M271.40 537.90 V522.40 M271.40 3.00 V18.50 M374.25 537.90 V522.40 M374.25 3.00 V18.50 M477.10 537.90 V522.40 M477.10 3.00 V18.50 M579.95 537.90 V522.40 M579.95 3.00 V18.50 M682.80 537.90 V522.40 M682.80 3.00 V18.50 M117.12 537.90 V529.90 M117.12 3.00 V11.00 M219.98 537.90 V529.90 M219.98 3.00 V11.00 M322.82 537.90 V529.90 M322.82 3.00 V11.00 M425.68 537.90 V529.90 M425.68 3.00 V11.00 M528.52 537.90 V529.90 M528.52 3.00 V11.00 M631.38 537.90 V529.90 M631.38 3.00 V11.00 M65.60 56.10 H82.60 M682.80 56.10 H665.80 M65.60 163.30 H82.60 M682.80 163.30 H665.80 M65.60 270.50 H82.60 M682.80 270.50 H665.80 M65.60 377.70 H82.60 M682.80 377.70 H665.80 M65.60 484.90 H82.60 M682.80 484.90 H665.80 M65.60 109.70 H74.30 M682.80 109.70 H674.10 M65.60 216.90 H74.30 M682.80 216.90 H674.10 M65.60 324.10 H74.30 M682.80 324.10 H674.10 M65.60 431.30 H74.30 M682.80 431.30 H674.10" stroke="#111" stroke-width="1.6" fill="none"/>
<path d="M64.60 3.00 H683.80" stroke="#4a4a4a" stroke-width="1.8" fill="none"/>
<path d="M65.60 2.10 V537.90 H682.80 V2.10" stroke="#151515" stroke-width="1.8" fill="none" stroke-linejoin="round"/>
<line x1="425.5" y1="31.1" x2="479.3" y2="31.1" stroke="#161616" stroke-width="2.2"/>
<line x1="425.5" y1="48.6" x2="479.3" y2="48.6" stroke="#a02828" stroke-width="2.2"/>
<line x1="425.5" y1="68.9" x2="479.3" y2="68.9" stroke="#50d450" stroke-width="2.2"/>
<line x1="425.5" y1="91.9" x2="479.3" y2="91.9" stroke="#262680" stroke-width="2.2"/>
<text x="48.20" y="61.60" font-size="21.00" textLength="11.55" lengthAdjust="spacingAndGlyphs">2</text>
<text x="44.91" y="170.90" font-size="21.00" textLength="8.40" lengthAdjust="spacingAndGlyphs">1</text>
<text x="43.02" y="276.50" font-size="21.00" textLength="11.55" lengthAdjust="spacingAndGlyphs">0</text>
<text x="34.14" y="384.10" font-size="21.00" textLength="7.69" lengthAdjust="spacingAndGlyphs">-</text>
<text x="48.76" y="384.40" font-size="21.00" textLength="8.40" lengthAdjust="spacingAndGlyphs">1</text>
<text x="32.04" y="490.60" font-size="21.00" textLength="7.69" lengthAdjust="spacingAndGlyphs">-</text>
<text x="45.05" y="490.60" font-size="21.00" textLength="11.55" lengthAdjust="spacingAndGlyphs">2</text>
<text x="51.53" y="558.00" font-size="21.00" textLength="23.10" lengthAdjust="spacingAndGlyphs">20</text>
<text x="154.66" y="558.00" font-size="21.00" textLength="23.10" lengthAdjust="spacingAndGlyphs">40</text>
<text x="256.89" y="558.00" font-size="21.00" textLength="23.10" lengthAdjust="spacingAndGlyphs">60</text>
<text x="360.95" y="558.00" font-size="21.00" textLength="23.10" lengthAdjust="spacingAndGlyphs">80</text>
<text x="456.40" y="558.00" font-size="21.00" textLength="34.65" lengthAdjust="spacingAndGlyphs">100</text>
<text x="558.40" y="558.00" font-size="21.00" textLength="34.65" lengthAdjust="spacingAndGlyphs">120</text>
<text x="662.60" y="558.00" font-size="21.00" textLength="34.65" lengthAdjust="spacingAndGlyphs">140</text>
<text x="259.73" y="585.70" font-size="29.00" textLength="231.58" lengthAdjust="spacingAndGlyphs">Temperature ( °C)</text>
<g transform="translate(25.0,350.4) rotate(-90) scale(0.9890,1.1)">
<text x="-0.83" y="0" font-size="28.50">Heat flow (W/g)</text>
</g>
<text transform="translate(107.03,47.60) scale(1.030,1)" font-size="19.20" letter-spacing="1.349">Heating</text>
<text transform="translate(94.50,495.50) scale(1.000,1)" font-size="19.60" letter-spacing="0.651">Cooling</text>
<g class="lg">
<text x="493.00" y="32.60" font-size="15.00" textLength="54.77" lengthAdjust="spacingAndGlyphs">Paraffin</text>
<text x="493.00" y="49.80" font-size="15.00" textLength="54.77" lengthAdjust="spacingAndGlyphs">Paraffin</text>
<text x="493.00" y="70.90" font-size="15.00" textLength="54.77" lengthAdjust="spacingAndGlyphs">Paraffin</text>
<text x="493.00" y="93.60" font-size="15.00" textLength="54.77" lengthAdjust="spacingAndGlyphs">Paraffin</text>
<text x="548.24" y="53.20" font-size="10.00" textLength="11.40" lengthAdjust="spacingAndGlyphs">90</text>
<text x="558.90" y="49.80" font-size="15.00" textLength="32.30" lengthAdjust="spacingAndGlyphs">/Ash</text>
<text x="591.70" y="53.20" font-size="10.00" textLength="11.40" lengthAdjust="spacingAndGlyphs">10</text>
<text x="547.85" y="74.30" font-size="10.00" textLength="11.40" lengthAdjust="spacingAndGlyphs">70</text>
<text x="558.90" y="70.90" font-size="15.00" textLength="32.30" lengthAdjust="spacingAndGlyphs">/Ash</text>
<text x="592.15" y="74.30" font-size="10.00" textLength="11.40" lengthAdjust="spacingAndGlyphs">30</text>
<text x="547.94" y="97.00" font-size="10.00" textLength="11.40" lengthAdjust="spacingAndGlyphs">50</text>
<text x="558.90" y="93.60" font-size="15.00" textLength="32.30" lengthAdjust="spacingAndGlyphs">/Ash</text>
<text x="592.04" y="97.00" font-size="10.00" textLength="11.40" lengthAdjust="spacingAndGlyphs">50</text>
</g>
</svg>
</body></html>
